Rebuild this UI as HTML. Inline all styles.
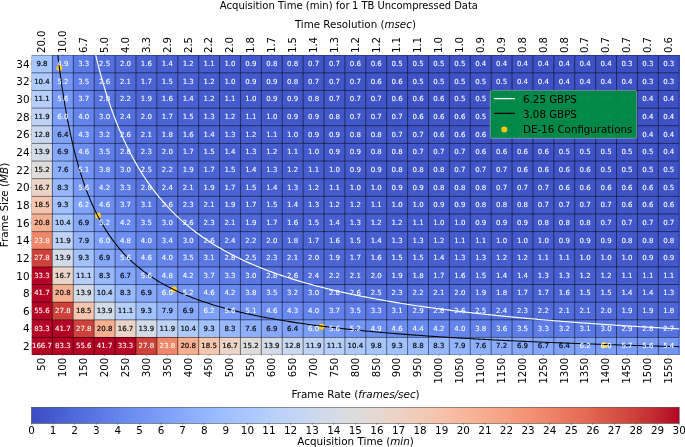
<!DOCTYPE html>
<html><head><meta charset="utf-8"><title>Acquisition Time heatmap</title>
<style>html,body{margin:0;padding:0;background:#fff}body{width:685px;height:447px;overflow:hidden}</style></head>
<body>
<svg width="685" height="447" viewBox="0 0 685 447" style="display:block" font-family="'DejaVu Sans', 'Liberation Sans', sans-serif">
<rect width="685" height="447" fill="#fff"/>
<defs><linearGradient id="cw" x1="0" x2="1" y1="0" y2="0"><stop offset="0.00%" stop-color="#3b4cc0"/><stop offset="2.08%" stop-color="#4055c8"/><stop offset="4.17%" stop-color="#465ecf"/><stop offset="6.25%" stop-color="#4e68d8"/><stop offset="8.33%" stop-color="#5470de"/><stop offset="10.42%" stop-color="#5a78e4"/><stop offset="12.50%" stop-color="#6282ea"/><stop offset="14.58%" stop-color="#688aef"/><stop offset="16.67%" stop-color="#6f92f3"/><stop offset="18.75%" stop-color="#779af7"/><stop offset="20.83%" stop-color="#7ea1fa"/><stop offset="22.92%" stop-color="#85a8fc"/><stop offset="25.00%" stop-color="#8db0fe"/><stop offset="27.08%" stop-color="#94b6ff"/><stop offset="29.17%" stop-color="#9bbcff"/><stop offset="31.25%" stop-color="#a3c2fe"/><stop offset="33.33%" stop-color="#aac7fd"/><stop offset="35.42%" stop-color="#b1cbfc"/><stop offset="37.50%" stop-color="#b9d0f9"/><stop offset="39.58%" stop-color="#bfd3f6"/><stop offset="41.67%" stop-color="#c5d6f2"/><stop offset="43.75%" stop-color="#ccd9ed"/><stop offset="45.83%" stop-color="#d2dbe8"/><stop offset="47.92%" stop-color="#d7dce3"/><stop offset="50.00%" stop-color="#dddcdc"/><stop offset="52.08%" stop-color="#e2dad5"/><stop offset="54.17%" stop-color="#e7d7ce"/><stop offset="56.25%" stop-color="#ecd3c5"/><stop offset="58.33%" stop-color="#efcebd"/><stop offset="60.42%" stop-color="#f2cab5"/><stop offset="62.50%" stop-color="#f5c4ac"/><stop offset="64.58%" stop-color="#f6bea4"/><stop offset="66.67%" stop-color="#f7b89c"/><stop offset="68.75%" stop-color="#f7b093"/><stop offset="70.83%" stop-color="#f7a98b"/><stop offset="72.92%" stop-color="#f6a283"/><stop offset="75.00%" stop-color="#f4987a"/><stop offset="77.08%" stop-color="#f29072"/><stop offset="79.17%" stop-color="#ef886b"/><stop offset="81.25%" stop-color="#eb7d62"/><stop offset="83.33%" stop-color="#e7745b"/><stop offset="85.42%" stop-color="#e36b54"/><stop offset="87.50%" stop-color="#dd5f4b"/><stop offset="89.58%" stop-color="#d75445"/><stop offset="91.67%" stop-color="#d1493f"/><stop offset="93.75%" stop-color="#ca3b37"/><stop offset="95.83%" stop-color="#c32e31"/><stop offset="97.92%" stop-color="#bb1b2c"/><stop offset="100.00%" stop-color="#b40426"/></linearGradient>
<clipPath id="ax"><rect x="31.5" y="55.2" width="647.70" height="299.90"/></clipPath></defs>
<text x="219.8" y="8.7" font-size="10.06" fill="#000">Acquisition Time (min) for</text>
<text x="352.0" y="8.7" font-size="9.91" fill="#000">1 TB Uncompressed Data</text>
<text x="355.4" y="28.1" font-size="10.3" text-anchor="middle" fill="#000">Time Resolution (<tspan font-style="italic">msec</tspan>)</text>
<text x="355.6" y="397.8" font-size="10.4" text-anchor="middle" fill="#000">Frame Rate (<tspan font-style="italic">frames/sec</tspan>)</text>
<text x="355.6" y="444.7" font-size="10.4" text-anchor="middle" fill="#000">Acquisition Time (<tspan font-style="italic">min</tspan>)</text>
<text transform="translate(8.3,205) rotate(-90)" font-size="10.4" text-anchor="middle" fill="#000">Frame Size (<tspan font-style="italic">MB</tspan>)</text>
<g shape-rendering="crispEdges">
<rect x="31.50" y="55.20" width="21.19" height="17.94" fill="#a7c5fe"/>
<rect x="52.39" y="55.20" width="21.19" height="17.94" fill="#6e90f2"/>
<rect x="73.29" y="55.20" width="21.19" height="17.94" fill="#5b7ae5"/>
<rect x="94.18" y="55.20" width="21.19" height="17.94" fill="#536edd"/>
<rect x="115.07" y="55.20" width="21.19" height="17.94" fill="#4e68d8"/>
<rect x="135.97" y="55.20" width="21.19" height="17.94" fill="#4a63d3"/>
<rect x="156.86" y="55.20" width="21.19" height="17.94" fill="#485fd1"/>
<rect x="177.75" y="55.20" width="21.19" height="17.94" fill="#465ecf"/>
<rect x="198.65" y="55.20" width="21.19" height="17.94" fill="#455cce"/>
<rect x="219.54" y="55.20" width="21.19" height="17.94" fill="#445acc"/>
<rect x="240.44" y="55.20" width="21.19" height="17.94" fill="#4358cb"/>
<rect x="261.33" y="55.20" width="21.19" height="17.94" fill="#4257c9"/>
<rect x="282.22" y="55.20" width="21.19" height="17.94" fill="#4257c9"/>
<rect x="303.12" y="55.20" width="21.19" height="17.94" fill="#4055c8"/>
<rect x="324.01" y="55.20" width="21.19" height="17.94" fill="#4055c8"/>
<rect x="344.90" y="55.20" width="21.19" height="17.94" fill="#4055c8"/>
<rect x="365.80" y="55.20" width="21.19" height="17.94" fill="#3f53c6"/>
<rect x="386.69" y="55.20" width="21.19" height="17.94" fill="#3f53c6"/>
<rect x="407.58" y="55.20" width="21.19" height="17.94" fill="#3f53c6"/>
<rect x="428.48" y="55.20" width="21.19" height="17.94" fill="#3f53c6"/>
<rect x="449.37" y="55.20" width="21.19" height="17.94" fill="#3e51c5"/>
<rect x="470.26" y="55.20" width="21.19" height="17.94" fill="#3e51c5"/>
<rect x="491.16" y="55.20" width="21.19" height="17.94" fill="#3e51c5"/>
<rect x="512.05" y="55.20" width="21.19" height="17.94" fill="#3e51c5"/>
<rect x="532.95" y="55.20" width="21.19" height="17.94" fill="#3e51c5"/>
<rect x="553.84" y="55.20" width="21.19" height="17.94" fill="#3e51c5"/>
<rect x="574.73" y="55.20" width="21.19" height="17.94" fill="#3e51c5"/>
<rect x="595.63" y="55.20" width="21.19" height="17.94" fill="#3d50c3"/>
<rect x="616.52" y="55.20" width="21.19" height="17.94" fill="#3d50c3"/>
<rect x="637.41" y="55.20" width="21.19" height="17.94" fill="#3d50c3"/>
<rect x="658.31" y="55.20" width="21.19" height="17.94" fill="#3d50c3"/>
<rect x="31.50" y="72.84" width="21.19" height="17.94" fill="#aec9fc"/>
<rect x="52.39" y="72.84" width="21.19" height="17.94" fill="#7295f4"/>
<rect x="73.29" y="72.84" width="21.19" height="17.94" fill="#5e7de7"/>
<rect x="94.18" y="72.84" width="21.19" height="17.94" fill="#5572df"/>
<rect x="115.07" y="72.84" width="21.19" height="17.94" fill="#4f69d9"/>
<rect x="135.97" y="72.84" width="21.19" height="17.94" fill="#4b64d5"/>
<rect x="156.86" y="72.84" width="21.19" height="17.94" fill="#4961d2"/>
<rect x="177.75" y="72.84" width="21.19" height="17.94" fill="#485fd1"/>
<rect x="198.65" y="72.84" width="21.19" height="17.94" fill="#455cce"/>
<rect x="219.54" y="72.84" width="21.19" height="17.94" fill="#445acc"/>
<rect x="240.44" y="72.84" width="21.19" height="17.94" fill="#445acc"/>
<rect x="261.33" y="72.84" width="21.19" height="17.94" fill="#4358cb"/>
<rect x="282.22" y="72.84" width="21.19" height="17.94" fill="#4257c9"/>
<rect x="303.12" y="72.84" width="21.19" height="17.94" fill="#4257c9"/>
<rect x="324.01" y="72.84" width="21.19" height="17.94" fill="#4055c8"/>
<rect x="344.90" y="72.84" width="21.19" height="17.94" fill="#4055c8"/>
<rect x="365.80" y="72.84" width="21.19" height="17.94" fill="#4055c8"/>
<rect x="386.69" y="72.84" width="21.19" height="17.94" fill="#3f53c6"/>
<rect x="407.58" y="72.84" width="21.19" height="17.94" fill="#3f53c6"/>
<rect x="428.48" y="72.84" width="21.19" height="17.94" fill="#3f53c6"/>
<rect x="449.37" y="72.84" width="21.19" height="17.94" fill="#3f53c6"/>
<rect x="470.26" y="72.84" width="21.19" height="17.94" fill="#3f53c6"/>
<rect x="491.16" y="72.84" width="21.19" height="17.94" fill="#3e51c5"/>
<rect x="512.05" y="72.84" width="21.19" height="17.94" fill="#3e51c5"/>
<rect x="532.95" y="72.84" width="21.19" height="17.94" fill="#3e51c5"/>
<rect x="553.84" y="72.84" width="21.19" height="17.94" fill="#3e51c5"/>
<rect x="574.73" y="72.84" width="21.19" height="17.94" fill="#3e51c5"/>
<rect x="595.63" y="72.84" width="21.19" height="17.94" fill="#3e51c5"/>
<rect x="616.52" y="72.84" width="21.19" height="17.94" fill="#3e51c5"/>
<rect x="637.41" y="72.84" width="21.19" height="17.94" fill="#3d50c3"/>
<rect x="658.31" y="72.84" width="21.19" height="17.94" fill="#3d50c3"/>
<rect x="31.50" y="90.48" width="21.19" height="17.94" fill="#b6cefa"/>
<rect x="52.39" y="90.48" width="21.19" height="17.94" fill="#7699f6"/>
<rect x="73.29" y="90.48" width="21.19" height="17.94" fill="#6180e9"/>
<rect x="94.18" y="90.48" width="21.19" height="17.94" fill="#5673e0"/>
<rect x="115.07" y="90.48" width="21.19" height="17.94" fill="#506bda"/>
<rect x="135.97" y="90.48" width="21.19" height="17.94" fill="#4c66d6"/>
<rect x="156.86" y="90.48" width="21.19" height="17.94" fill="#4a63d3"/>
<rect x="177.75" y="90.48" width="21.19" height="17.94" fill="#485fd1"/>
<rect x="198.65" y="90.48" width="21.19" height="17.94" fill="#465ecf"/>
<rect x="219.54" y="90.48" width="21.19" height="17.94" fill="#455cce"/>
<rect x="240.44" y="90.48" width="21.19" height="17.94" fill="#445acc"/>
<rect x="261.33" y="90.48" width="21.19" height="17.94" fill="#4358cb"/>
<rect x="282.22" y="90.48" width="21.19" height="17.94" fill="#4358cb"/>
<rect x="303.12" y="90.48" width="21.19" height="17.94" fill="#4257c9"/>
<rect x="324.01" y="90.48" width="21.19" height="17.94" fill="#4257c9"/>
<rect x="344.90" y="90.48" width="21.19" height="17.94" fill="#4055c8"/>
<rect x="365.80" y="90.48" width="21.19" height="17.94" fill="#4055c8"/>
<rect x="386.69" y="90.48" width="21.19" height="17.94" fill="#4055c8"/>
<rect x="407.58" y="90.48" width="21.19" height="17.94" fill="#3f53c6"/>
<rect x="428.48" y="90.48" width="21.19" height="17.94" fill="#3f53c6"/>
<rect x="449.37" y="90.48" width="21.19" height="17.94" fill="#3f53c6"/>
<rect x="470.26" y="90.48" width="21.19" height="17.94" fill="#3f53c6"/>
<rect x="491.16" y="90.48" width="21.19" height="17.94" fill="#3f53c6"/>
<rect x="512.05" y="90.48" width="21.19" height="17.94" fill="#3e51c5"/>
<rect x="532.95" y="90.48" width="21.19" height="17.94" fill="#3e51c5"/>
<rect x="553.84" y="90.48" width="21.19" height="17.94" fill="#3e51c5"/>
<rect x="574.73" y="90.48" width="21.19" height="17.94" fill="#3e51c5"/>
<rect x="595.63" y="90.48" width="21.19" height="17.94" fill="#3e51c5"/>
<rect x="616.52" y="90.48" width="21.19" height="17.94" fill="#3e51c5"/>
<rect x="637.41" y="90.48" width="21.19" height="17.94" fill="#3e51c5"/>
<rect x="658.31" y="90.48" width="21.19" height="17.94" fill="#3e51c5"/>
<rect x="31.50" y="108.12" width="21.19" height="17.94" fill="#bfd3f6"/>
<rect x="52.39" y="108.12" width="21.19" height="17.94" fill="#7a9df8"/>
<rect x="73.29" y="108.12" width="21.19" height="17.94" fill="#6384eb"/>
<rect x="94.18" y="108.12" width="21.19" height="17.94" fill="#5977e3"/>
<rect x="115.07" y="108.12" width="21.19" height="17.94" fill="#536edd"/>
<rect x="135.97" y="108.12" width="21.19" height="17.94" fill="#4e68d8"/>
<rect x="156.86" y="108.12" width="21.19" height="17.94" fill="#4b64d5"/>
<rect x="177.75" y="108.12" width="21.19" height="17.94" fill="#4961d2"/>
<rect x="198.65" y="108.12" width="21.19" height="17.94" fill="#485fd1"/>
<rect x="219.54" y="108.12" width="21.19" height="17.94" fill="#465ecf"/>
<rect x="240.44" y="108.12" width="21.19" height="17.94" fill="#455cce"/>
<rect x="261.33" y="108.12" width="21.19" height="17.94" fill="#445acc"/>
<rect x="282.22" y="108.12" width="21.19" height="17.94" fill="#4358cb"/>
<rect x="303.12" y="108.12" width="21.19" height="17.94" fill="#4358cb"/>
<rect x="324.01" y="108.12" width="21.19" height="17.94" fill="#4257c9"/>
<rect x="344.90" y="108.12" width="21.19" height="17.94" fill="#4257c9"/>
<rect x="365.80" y="108.12" width="21.19" height="17.94" fill="#4055c8"/>
<rect x="386.69" y="108.12" width="21.19" height="17.94" fill="#4055c8"/>
<rect x="407.58" y="108.12" width="21.19" height="17.94" fill="#4055c8"/>
<rect x="428.48" y="108.12" width="21.19" height="17.94" fill="#4055c8"/>
<rect x="449.37" y="108.12" width="21.19" height="17.94" fill="#3f53c6"/>
<rect x="470.26" y="108.12" width="21.19" height="17.94" fill="#3f53c6"/>
<rect x="491.16" y="108.12" width="21.19" height="17.94" fill="#3f53c6"/>
<rect x="512.05" y="108.12" width="21.19" height="17.94" fill="#3f53c6"/>
<rect x="532.95" y="108.12" width="21.19" height="17.94" fill="#3f53c6"/>
<rect x="553.84" y="108.12" width="21.19" height="17.94" fill="#3e51c5"/>
<rect x="574.73" y="108.12" width="21.19" height="17.94" fill="#3e51c5"/>
<rect x="595.63" y="108.12" width="21.19" height="17.94" fill="#3e51c5"/>
<rect x="616.52" y="108.12" width="21.19" height="17.94" fill="#3e51c5"/>
<rect x="637.41" y="108.12" width="21.19" height="17.94" fill="#3e51c5"/>
<rect x="658.31" y="108.12" width="21.19" height="17.94" fill="#3e51c5"/>
<rect x="31.50" y="125.76" width="21.19" height="17.94" fill="#c9d7f0"/>
<rect x="52.39" y="125.76" width="21.19" height="17.94" fill="#80a3fa"/>
<rect x="73.29" y="125.76" width="21.19" height="17.94" fill="#6788ee"/>
<rect x="94.18" y="125.76" width="21.19" height="17.94" fill="#5b7ae5"/>
<rect x="115.07" y="125.76" width="21.19" height="17.94" fill="#5470de"/>
<rect x="135.97" y="125.76" width="21.19" height="17.94" fill="#506bda"/>
<rect x="156.86" y="125.76" width="21.19" height="17.94" fill="#4c66d6"/>
<rect x="177.75" y="125.76" width="21.19" height="17.94" fill="#4a63d3"/>
<rect x="198.65" y="125.76" width="21.19" height="17.94" fill="#4961d2"/>
<rect x="219.54" y="125.76" width="21.19" height="17.94" fill="#465ecf"/>
<rect x="240.44" y="125.76" width="21.19" height="17.94" fill="#455cce"/>
<rect x="261.33" y="125.76" width="21.19" height="17.94" fill="#455cce"/>
<rect x="282.22" y="125.76" width="21.19" height="17.94" fill="#445acc"/>
<rect x="303.12" y="125.76" width="21.19" height="17.94" fill="#4358cb"/>
<rect x="324.01" y="125.76" width="21.19" height="17.94" fill="#4358cb"/>
<rect x="344.90" y="125.76" width="21.19" height="17.94" fill="#4257c9"/>
<rect x="365.80" y="125.76" width="21.19" height="17.94" fill="#4257c9"/>
<rect x="386.69" y="125.76" width="21.19" height="17.94" fill="#4257c9"/>
<rect x="407.58" y="125.76" width="21.19" height="17.94" fill="#4055c8"/>
<rect x="428.48" y="125.76" width="21.19" height="17.94" fill="#4055c8"/>
<rect x="449.37" y="125.76" width="21.19" height="17.94" fill="#4055c8"/>
<rect x="470.26" y="125.76" width="21.19" height="17.94" fill="#3f53c6"/>
<rect x="491.16" y="125.76" width="21.19" height="17.94" fill="#3f53c6"/>
<rect x="512.05" y="125.76" width="21.19" height="17.94" fill="#3f53c6"/>
<rect x="532.95" y="125.76" width="21.19" height="17.94" fill="#3f53c6"/>
<rect x="553.84" y="125.76" width="21.19" height="17.94" fill="#3f53c6"/>
<rect x="574.73" y="125.76" width="21.19" height="17.94" fill="#3f53c6"/>
<rect x="595.63" y="125.76" width="21.19" height="17.94" fill="#3e51c5"/>
<rect x="616.52" y="125.76" width="21.19" height="17.94" fill="#3e51c5"/>
<rect x="637.41" y="125.76" width="21.19" height="17.94" fill="#3e51c5"/>
<rect x="658.31" y="125.76" width="21.19" height="17.94" fill="#3e51c5"/>
<rect x="31.50" y="143.41" width="21.19" height="17.94" fill="#d3dbe7"/>
<rect x="52.39" y="143.41" width="21.19" height="17.94" fill="#86a9fc"/>
<rect x="73.29" y="143.41" width="21.19" height="17.94" fill="#6b8df0"/>
<rect x="94.18" y="143.41" width="21.19" height="17.94" fill="#5e7de7"/>
<rect x="115.07" y="143.41" width="21.19" height="17.94" fill="#5673e0"/>
<rect x="135.97" y="143.41" width="21.19" height="17.94" fill="#516ddb"/>
<rect x="156.86" y="143.41" width="21.19" height="17.94" fill="#4e68d8"/>
<rect x="177.75" y="143.41" width="21.19" height="17.94" fill="#4b64d5"/>
<rect x="198.65" y="143.41" width="21.19" height="17.94" fill="#4a63d3"/>
<rect x="219.54" y="143.41" width="21.19" height="17.94" fill="#485fd1"/>
<rect x="240.44" y="143.41" width="21.19" height="17.94" fill="#465ecf"/>
<rect x="261.33" y="143.41" width="21.19" height="17.94" fill="#455cce"/>
<rect x="282.22" y="143.41" width="21.19" height="17.94" fill="#455cce"/>
<rect x="303.12" y="143.41" width="21.19" height="17.94" fill="#445acc"/>
<rect x="324.01" y="143.41" width="21.19" height="17.94" fill="#4358cb"/>
<rect x="344.90" y="143.41" width="21.19" height="17.94" fill="#4358cb"/>
<rect x="365.80" y="143.41" width="21.19" height="17.94" fill="#4257c9"/>
<rect x="386.69" y="143.41" width="21.19" height="17.94" fill="#4257c9"/>
<rect x="407.58" y="143.41" width="21.19" height="17.94" fill="#4257c9"/>
<rect x="428.48" y="143.41" width="21.19" height="17.94" fill="#4055c8"/>
<rect x="449.37" y="143.41" width="21.19" height="17.94" fill="#4055c8"/>
<rect x="470.26" y="143.41" width="21.19" height="17.94" fill="#4055c8"/>
<rect x="491.16" y="143.41" width="21.19" height="17.94" fill="#4055c8"/>
<rect x="512.05" y="143.41" width="21.19" height="17.94" fill="#3f53c6"/>
<rect x="532.95" y="143.41" width="21.19" height="17.94" fill="#3f53c6"/>
<rect x="553.84" y="143.41" width="21.19" height="17.94" fill="#3f53c6"/>
<rect x="574.73" y="143.41" width="21.19" height="17.94" fill="#3f53c6"/>
<rect x="595.63" y="143.41" width="21.19" height="17.94" fill="#3f53c6"/>
<rect x="616.52" y="143.41" width="21.19" height="17.94" fill="#3f53c6"/>
<rect x="637.41" y="143.41" width="21.19" height="17.94" fill="#3e51c5"/>
<rect x="658.31" y="143.41" width="21.19" height="17.94" fill="#3e51c5"/>
<rect x="31.50" y="161.05" width="21.19" height="17.94" fill="#dedcdb"/>
<rect x="52.39" y="161.05" width="21.19" height="17.94" fill="#8db0fe"/>
<rect x="73.29" y="161.05" width="21.19" height="17.94" fill="#7093f3"/>
<rect x="94.18" y="161.05" width="21.19" height="17.94" fill="#6282ea"/>
<rect x="115.07" y="161.05" width="21.19" height="17.94" fill="#5977e3"/>
<rect x="135.97" y="161.05" width="21.19" height="17.94" fill="#5470de"/>
<rect x="156.86" y="161.05" width="21.19" height="17.94" fill="#506bda"/>
<rect x="177.75" y="161.05" width="21.19" height="17.94" fill="#4e68d8"/>
<rect x="198.65" y="161.05" width="21.19" height="17.94" fill="#4b64d5"/>
<rect x="219.54" y="161.05" width="21.19" height="17.94" fill="#4961d2"/>
<rect x="240.44" y="161.05" width="21.19" height="17.94" fill="#485fd1"/>
<rect x="261.33" y="161.05" width="21.19" height="17.94" fill="#465ecf"/>
<rect x="282.22" y="161.05" width="21.19" height="17.94" fill="#455cce"/>
<rect x="303.12" y="161.05" width="21.19" height="17.94" fill="#455cce"/>
<rect x="324.01" y="161.05" width="21.19" height="17.94" fill="#445acc"/>
<rect x="344.90" y="161.05" width="21.19" height="17.94" fill="#445acc"/>
<rect x="365.80" y="161.05" width="21.19" height="17.94" fill="#4358cb"/>
<rect x="386.69" y="161.05" width="21.19" height="17.94" fill="#4358cb"/>
<rect x="407.58" y="161.05" width="21.19" height="17.94" fill="#4257c9"/>
<rect x="428.48" y="161.05" width="21.19" height="17.94" fill="#4257c9"/>
<rect x="449.37" y="161.05" width="21.19" height="17.94" fill="#4257c9"/>
<rect x="470.26" y="161.05" width="21.19" height="17.94" fill="#4055c8"/>
<rect x="491.16" y="161.05" width="21.19" height="17.94" fill="#4055c8"/>
<rect x="512.05" y="161.05" width="21.19" height="17.94" fill="#4055c8"/>
<rect x="532.95" y="161.05" width="21.19" height="17.94" fill="#4055c8"/>
<rect x="553.84" y="161.05" width="21.19" height="17.94" fill="#3f53c6"/>
<rect x="574.73" y="161.05" width="21.19" height="17.94" fill="#3f53c6"/>
<rect x="595.63" y="161.05" width="21.19" height="17.94" fill="#3f53c6"/>
<rect x="616.52" y="161.05" width="21.19" height="17.94" fill="#3f53c6"/>
<rect x="637.41" y="161.05" width="21.19" height="17.94" fill="#3f53c6"/>
<rect x="658.31" y="161.05" width="21.19" height="17.94" fill="#3f53c6"/>
<rect x="31.50" y="178.69" width="21.19" height="17.94" fill="#ead4c8"/>
<rect x="52.39" y="178.69" width="21.19" height="17.94" fill="#97b8ff"/>
<rect x="73.29" y="178.69" width="21.19" height="17.94" fill="#7699f6"/>
<rect x="94.18" y="178.69" width="21.19" height="17.94" fill="#6687ed"/>
<rect x="115.07" y="178.69" width="21.19" height="17.94" fill="#5d7ce6"/>
<rect x="135.97" y="178.69" width="21.19" height="17.94" fill="#5673e0"/>
<rect x="156.86" y="178.69" width="21.19" height="17.94" fill="#536edd"/>
<rect x="177.75" y="178.69" width="21.19" height="17.94" fill="#4f69d9"/>
<rect x="198.65" y="178.69" width="21.19" height="17.94" fill="#4c66d6"/>
<rect x="219.54" y="178.69" width="21.19" height="17.94" fill="#4b64d5"/>
<rect x="240.44" y="178.69" width="21.19" height="17.94" fill="#4961d2"/>
<rect x="261.33" y="178.69" width="21.19" height="17.94" fill="#485fd1"/>
<rect x="282.22" y="178.69" width="21.19" height="17.94" fill="#465ecf"/>
<rect x="303.12" y="178.69" width="21.19" height="17.94" fill="#465ecf"/>
<rect x="324.01" y="178.69" width="21.19" height="17.94" fill="#455cce"/>
<rect x="344.90" y="178.69" width="21.19" height="17.94" fill="#445acc"/>
<rect x="365.80" y="178.69" width="21.19" height="17.94" fill="#445acc"/>
<rect x="386.69" y="178.69" width="21.19" height="17.94" fill="#4358cb"/>
<rect x="407.58" y="178.69" width="21.19" height="17.94" fill="#4358cb"/>
<rect x="428.48" y="178.69" width="21.19" height="17.94" fill="#4358cb"/>
<rect x="449.37" y="178.69" width="21.19" height="17.94" fill="#4257c9"/>
<rect x="470.26" y="178.69" width="21.19" height="17.94" fill="#4257c9"/>
<rect x="491.16" y="178.69" width="21.19" height="17.94" fill="#4257c9"/>
<rect x="512.05" y="178.69" width="21.19" height="17.94" fill="#4055c8"/>
<rect x="532.95" y="178.69" width="21.19" height="17.94" fill="#4055c8"/>
<rect x="553.84" y="178.69" width="21.19" height="17.94" fill="#4055c8"/>
<rect x="574.73" y="178.69" width="21.19" height="17.94" fill="#4055c8"/>
<rect x="595.63" y="178.69" width="21.19" height="17.94" fill="#4055c8"/>
<rect x="616.52" y="178.69" width="21.19" height="17.94" fill="#3f53c6"/>
<rect x="637.41" y="178.69" width="21.19" height="17.94" fill="#3f53c6"/>
<rect x="658.31" y="178.69" width="21.19" height="17.94" fill="#3f53c6"/>
<rect x="31.50" y="196.33" width="21.19" height="17.94" fill="#f4c6af"/>
<rect x="52.39" y="196.33" width="21.19" height="17.94" fill="#a2c1ff"/>
<rect x="73.29" y="196.33" width="21.19" height="17.94" fill="#7da0f9"/>
<rect x="94.18" y="196.33" width="21.19" height="17.94" fill="#6b8df0"/>
<rect x="115.07" y="196.33" width="21.19" height="17.94" fill="#6180e9"/>
<rect x="135.97" y="196.33" width="21.19" height="17.94" fill="#5a78e4"/>
<rect x="156.86" y="196.33" width="21.19" height="17.94" fill="#5572df"/>
<rect x="177.75" y="196.33" width="21.19" height="17.94" fill="#516ddb"/>
<rect x="198.65" y="196.33" width="21.19" height="17.94" fill="#4f69d9"/>
<rect x="219.54" y="196.33" width="21.19" height="17.94" fill="#4c66d6"/>
<rect x="240.44" y="196.33" width="21.19" height="17.94" fill="#4b64d5"/>
<rect x="261.33" y="196.33" width="21.19" height="17.94" fill="#4a63d3"/>
<rect x="282.22" y="196.33" width="21.19" height="17.94" fill="#4961d2"/>
<rect x="303.12" y="196.33" width="21.19" height="17.94" fill="#485fd1"/>
<rect x="324.01" y="196.33" width="21.19" height="17.94" fill="#465ecf"/>
<rect x="344.90" y="196.33" width="21.19" height="17.94" fill="#455cce"/>
<rect x="365.80" y="196.33" width="21.19" height="17.94" fill="#455cce"/>
<rect x="386.69" y="196.33" width="21.19" height="17.94" fill="#445acc"/>
<rect x="407.58" y="196.33" width="21.19" height="17.94" fill="#445acc"/>
<rect x="428.48" y="196.33" width="21.19" height="17.94" fill="#4358cb"/>
<rect x="449.37" y="196.33" width="21.19" height="17.94" fill="#4358cb"/>
<rect x="470.26" y="196.33" width="21.19" height="17.94" fill="#4358cb"/>
<rect x="491.16" y="196.33" width="21.19" height="17.94" fill="#4257c9"/>
<rect x="512.05" y="196.33" width="21.19" height="17.94" fill="#4257c9"/>
<rect x="532.95" y="196.33" width="21.19" height="17.94" fill="#4257c9"/>
<rect x="553.84" y="196.33" width="21.19" height="17.94" fill="#4257c9"/>
<rect x="574.73" y="196.33" width="21.19" height="17.94" fill="#4055c8"/>
<rect x="595.63" y="196.33" width="21.19" height="17.94" fill="#4055c8"/>
<rect x="616.52" y="196.33" width="21.19" height="17.94" fill="#4055c8"/>
<rect x="637.41" y="196.33" width="21.19" height="17.94" fill="#4055c8"/>
<rect x="658.31" y="196.33" width="21.19" height="17.94" fill="#4055c8"/>
<rect x="31.50" y="213.97" width="21.19" height="17.94" fill="#f7af91"/>
<rect x="52.39" y="213.97" width="21.19" height="17.94" fill="#aec9fc"/>
<rect x="73.29" y="213.97" width="21.19" height="17.94" fill="#86a9fc"/>
<rect x="94.18" y="213.97" width="21.19" height="17.94" fill="#7295f4"/>
<rect x="115.07" y="213.97" width="21.19" height="17.94" fill="#6687ed"/>
<rect x="135.97" y="213.97" width="21.19" height="17.94" fill="#5e7de7"/>
<rect x="156.86" y="213.97" width="21.19" height="17.94" fill="#5977e3"/>
<rect x="177.75" y="213.97" width="21.19" height="17.94" fill="#5572df"/>
<rect x="198.65" y="213.97" width="21.19" height="17.94" fill="#516ddb"/>
<rect x="219.54" y="213.97" width="21.19" height="17.94" fill="#4f69d9"/>
<rect x="240.44" y="213.97" width="21.19" height="17.94" fill="#4e68d8"/>
<rect x="261.33" y="213.97" width="21.19" height="17.94" fill="#4b64d5"/>
<rect x="282.22" y="213.97" width="21.19" height="17.94" fill="#4a63d3"/>
<rect x="303.12" y="213.97" width="21.19" height="17.94" fill="#4961d2"/>
<rect x="324.01" y="213.97" width="21.19" height="17.94" fill="#485fd1"/>
<rect x="344.90" y="213.97" width="21.19" height="17.94" fill="#485fd1"/>
<rect x="365.80" y="213.97" width="21.19" height="17.94" fill="#465ecf"/>
<rect x="386.69" y="213.97" width="21.19" height="17.94" fill="#455cce"/>
<rect x="407.58" y="213.97" width="21.19" height="17.94" fill="#455cce"/>
<rect x="428.48" y="213.97" width="21.19" height="17.94" fill="#445acc"/>
<rect x="449.37" y="213.97" width="21.19" height="17.94" fill="#445acc"/>
<rect x="470.26" y="213.97" width="21.19" height="17.94" fill="#445acc"/>
<rect x="491.16" y="213.97" width="21.19" height="17.94" fill="#4358cb"/>
<rect x="512.05" y="213.97" width="21.19" height="17.94" fill="#4358cb"/>
<rect x="532.95" y="213.97" width="21.19" height="17.94" fill="#4358cb"/>
<rect x="553.84" y="213.97" width="21.19" height="17.94" fill="#4257c9"/>
<rect x="574.73" y="213.97" width="21.19" height="17.94" fill="#4257c9"/>
<rect x="595.63" y="213.97" width="21.19" height="17.94" fill="#4257c9"/>
<rect x="616.52" y="213.97" width="21.19" height="17.94" fill="#4257c9"/>
<rect x="637.41" y="213.97" width="21.19" height="17.94" fill="#4055c8"/>
<rect x="658.31" y="213.97" width="21.19" height="17.94" fill="#4055c8"/>
<rect x="31.50" y="231.61" width="21.19" height="17.94" fill="#ee8669"/>
<rect x="52.39" y="231.61" width="21.19" height="17.94" fill="#bfd3f6"/>
<rect x="73.29" y="231.61" width="21.19" height="17.94" fill="#92b4fe"/>
<rect x="94.18" y="231.61" width="21.19" height="17.94" fill="#7a9df8"/>
<rect x="115.07" y="231.61" width="21.19" height="17.94" fill="#6c8ff1"/>
<rect x="135.97" y="231.61" width="21.19" height="17.94" fill="#6384eb"/>
<rect x="156.86" y="231.61" width="21.19" height="17.94" fill="#5e7de7"/>
<rect x="177.75" y="231.61" width="21.19" height="17.94" fill="#5977e3"/>
<rect x="198.65" y="231.61" width="21.19" height="17.94" fill="#5572df"/>
<rect x="219.54" y="231.61" width="21.19" height="17.94" fill="#536edd"/>
<rect x="240.44" y="231.61" width="21.19" height="17.94" fill="#506bda"/>
<rect x="261.33" y="231.61" width="21.19" height="17.94" fill="#4e68d8"/>
<rect x="282.22" y="231.61" width="21.19" height="17.94" fill="#4c66d6"/>
<rect x="303.12" y="231.61" width="21.19" height="17.94" fill="#4b64d5"/>
<rect x="324.01" y="231.61" width="21.19" height="17.94" fill="#4a63d3"/>
<rect x="344.90" y="231.61" width="21.19" height="17.94" fill="#4961d2"/>
<rect x="365.80" y="231.61" width="21.19" height="17.94" fill="#485fd1"/>
<rect x="386.69" y="231.61" width="21.19" height="17.94" fill="#485fd1"/>
<rect x="407.58" y="231.61" width="21.19" height="17.94" fill="#465ecf"/>
<rect x="428.48" y="231.61" width="21.19" height="17.94" fill="#465ecf"/>
<rect x="449.37" y="231.61" width="21.19" height="17.94" fill="#455cce"/>
<rect x="470.26" y="231.61" width="21.19" height="17.94" fill="#455cce"/>
<rect x="491.16" y="231.61" width="21.19" height="17.94" fill="#445acc"/>
<rect x="512.05" y="231.61" width="21.19" height="17.94" fill="#445acc"/>
<rect x="532.95" y="231.61" width="21.19" height="17.94" fill="#445acc"/>
<rect x="553.84" y="231.61" width="21.19" height="17.94" fill="#4358cb"/>
<rect x="574.73" y="231.61" width="21.19" height="17.94" fill="#4358cb"/>
<rect x="595.63" y="231.61" width="21.19" height="17.94" fill="#4358cb"/>
<rect x="616.52" y="231.61" width="21.19" height="17.94" fill="#4358cb"/>
<rect x="637.41" y="231.61" width="21.19" height="17.94" fill="#4257c9"/>
<rect x="658.31" y="231.61" width="21.19" height="17.94" fill="#4257c9"/>
<rect x="31.50" y="249.25" width="21.19" height="17.94" fill="#cd423b"/>
<rect x="52.39" y="249.25" width="21.19" height="17.94" fill="#d3dbe7"/>
<rect x="73.29" y="249.25" width="21.19" height="17.94" fill="#a2c1ff"/>
<rect x="94.18" y="249.25" width="21.19" height="17.94" fill="#86a9fc"/>
<rect x="115.07" y="249.25" width="21.19" height="17.94" fill="#7699f6"/>
<rect x="135.97" y="249.25" width="21.19" height="17.94" fill="#6b8df0"/>
<rect x="156.86" y="249.25" width="21.19" height="17.94" fill="#6384eb"/>
<rect x="177.75" y="249.25" width="21.19" height="17.94" fill="#5e7de7"/>
<rect x="198.65" y="249.25" width="21.19" height="17.94" fill="#5a78e4"/>
<rect x="219.54" y="249.25" width="21.19" height="17.94" fill="#5673e0"/>
<rect x="240.44" y="249.25" width="21.19" height="17.94" fill="#5470de"/>
<rect x="261.33" y="249.25" width="21.19" height="17.94" fill="#516ddb"/>
<rect x="282.22" y="249.25" width="21.19" height="17.94" fill="#506bda"/>
<rect x="303.12" y="249.25" width="21.19" height="17.94" fill="#4e68d8"/>
<rect x="324.01" y="249.25" width="21.19" height="17.94" fill="#4c66d6"/>
<rect x="344.90" y="249.25" width="21.19" height="17.94" fill="#4b64d5"/>
<rect x="365.80" y="249.25" width="21.19" height="17.94" fill="#4a63d3"/>
<rect x="386.69" y="249.25" width="21.19" height="17.94" fill="#4a63d3"/>
<rect x="407.58" y="249.25" width="21.19" height="17.94" fill="#4961d2"/>
<rect x="428.48" y="249.25" width="21.19" height="17.94" fill="#485fd1"/>
<rect x="449.37" y="249.25" width="21.19" height="17.94" fill="#485fd1"/>
<rect x="470.26" y="249.25" width="21.19" height="17.94" fill="#465ecf"/>
<rect x="491.16" y="249.25" width="21.19" height="17.94" fill="#465ecf"/>
<rect x="512.05" y="249.25" width="21.19" height="17.94" fill="#455cce"/>
<rect x="532.95" y="249.25" width="21.19" height="17.94" fill="#455cce"/>
<rect x="553.84" y="249.25" width="21.19" height="17.94" fill="#455cce"/>
<rect x="574.73" y="249.25" width="21.19" height="17.94" fill="#445acc"/>
<rect x="595.63" y="249.25" width="21.19" height="17.94" fill="#445acc"/>
<rect x="616.52" y="249.25" width="21.19" height="17.94" fill="#445acc"/>
<rect x="637.41" y="249.25" width="21.19" height="17.94" fill="#4358cb"/>
<rect x="658.31" y="249.25" width="21.19" height="17.94" fill="#4358cb"/>
<rect x="31.50" y="266.89" width="21.19" height="17.94" fill="#b40426"/>
<rect x="52.39" y="266.89" width="21.19" height="17.94" fill="#ead4c8"/>
<rect x="73.29" y="266.89" width="21.19" height="17.94" fill="#b6cefa"/>
<rect x="94.18" y="266.89" width="21.19" height="17.94" fill="#97b8ff"/>
<rect x="115.07" y="266.89" width="21.19" height="17.94" fill="#82a6fb"/>
<rect x="135.97" y="266.89" width="21.19" height="17.94" fill="#7699f6"/>
<rect x="156.86" y="266.89" width="21.19" height="17.94" fill="#6c8ff1"/>
<rect x="177.75" y="266.89" width="21.19" height="17.94" fill="#6687ed"/>
<rect x="198.65" y="266.89" width="21.19" height="17.94" fill="#6180e9"/>
<rect x="219.54" y="266.89" width="21.19" height="17.94" fill="#5d7ce6"/>
<rect x="240.44" y="266.89" width="21.19" height="17.94" fill="#5977e3"/>
<rect x="261.33" y="266.89" width="21.19" height="17.94" fill="#5673e0"/>
<rect x="282.22" y="266.89" width="21.19" height="17.94" fill="#5470de"/>
<rect x="303.12" y="266.89" width="21.19" height="17.94" fill="#536edd"/>
<rect x="324.01" y="266.89" width="21.19" height="17.94" fill="#506bda"/>
<rect x="344.90" y="266.89" width="21.19" height="17.94" fill="#4f69d9"/>
<rect x="365.80" y="266.89" width="21.19" height="17.94" fill="#4e68d8"/>
<rect x="386.69" y="266.89" width="21.19" height="17.94" fill="#4c66d6"/>
<rect x="407.58" y="266.89" width="21.19" height="17.94" fill="#4b64d5"/>
<rect x="428.48" y="266.89" width="21.19" height="17.94" fill="#4b64d5"/>
<rect x="449.37" y="266.89" width="21.19" height="17.94" fill="#4a63d3"/>
<rect x="470.26" y="266.89" width="21.19" height="17.94" fill="#4961d2"/>
<rect x="491.16" y="266.89" width="21.19" height="17.94" fill="#4961d2"/>
<rect x="512.05" y="266.89" width="21.19" height="17.94" fill="#485fd1"/>
<rect x="532.95" y="266.89" width="21.19" height="17.94" fill="#485fd1"/>
<rect x="553.84" y="266.89" width="21.19" height="17.94" fill="#465ecf"/>
<rect x="574.73" y="266.89" width="21.19" height="17.94" fill="#465ecf"/>
<rect x="595.63" y="266.89" width="21.19" height="17.94" fill="#465ecf"/>
<rect x="616.52" y="266.89" width="21.19" height="17.94" fill="#455cce"/>
<rect x="637.41" y="266.89" width="21.19" height="17.94" fill="#455cce"/>
<rect x="658.31" y="266.89" width="21.19" height="17.94" fill="#455cce"/>
<rect x="31.50" y="284.54" width="21.19" height="17.94" fill="#b40426"/>
<rect x="52.39" y="284.54" width="21.19" height="17.94" fill="#f7af91"/>
<rect x="73.29" y="284.54" width="21.19" height="17.94" fill="#d3dbe7"/>
<rect x="94.18" y="284.54" width="21.19" height="17.94" fill="#aec9fc"/>
<rect x="115.07" y="284.54" width="21.19" height="17.94" fill="#97b8ff"/>
<rect x="135.97" y="284.54" width="21.19" height="17.94" fill="#86a9fc"/>
<rect x="156.86" y="284.54" width="21.19" height="17.94" fill="#7a9df8"/>
<rect x="177.75" y="284.54" width="21.19" height="17.94" fill="#7295f4"/>
<rect x="198.65" y="284.54" width="21.19" height="17.94" fill="#6b8df0"/>
<rect x="219.54" y="284.54" width="21.19" height="17.94" fill="#6687ed"/>
<rect x="240.44" y="284.54" width="21.19" height="17.94" fill="#6282ea"/>
<rect x="261.33" y="284.54" width="21.19" height="17.94" fill="#5e7de7"/>
<rect x="282.22" y="284.54" width="21.19" height="17.94" fill="#5b7ae5"/>
<rect x="303.12" y="284.54" width="21.19" height="17.94" fill="#5977e3"/>
<rect x="324.01" y="284.54" width="21.19" height="17.94" fill="#5673e0"/>
<rect x="344.90" y="284.54" width="21.19" height="17.94" fill="#5572df"/>
<rect x="365.80" y="284.54" width="21.19" height="17.94" fill="#536edd"/>
<rect x="386.69" y="284.54" width="21.19" height="17.94" fill="#516ddb"/>
<rect x="407.58" y="284.54" width="21.19" height="17.94" fill="#506bda"/>
<rect x="428.48" y="284.54" width="21.19" height="17.94" fill="#4f69d9"/>
<rect x="449.37" y="284.54" width="21.19" height="17.94" fill="#4e68d8"/>
<rect x="470.26" y="284.54" width="21.19" height="17.94" fill="#4e68d8"/>
<rect x="491.16" y="284.54" width="21.19" height="17.94" fill="#4c66d6"/>
<rect x="512.05" y="284.54" width="21.19" height="17.94" fill="#4b64d5"/>
<rect x="532.95" y="284.54" width="21.19" height="17.94" fill="#4b64d5"/>
<rect x="553.84" y="284.54" width="21.19" height="17.94" fill="#4a63d3"/>
<rect x="574.73" y="284.54" width="21.19" height="17.94" fill="#4a63d3"/>
<rect x="595.63" y="284.54" width="21.19" height="17.94" fill="#4961d2"/>
<rect x="616.52" y="284.54" width="21.19" height="17.94" fill="#4961d2"/>
<rect x="637.41" y="284.54" width="21.19" height="17.94" fill="#485fd1"/>
<rect x="658.31" y="284.54" width="21.19" height="17.94" fill="#485fd1"/>
<rect x="31.50" y="302.18" width="21.19" height="17.94" fill="#b40426"/>
<rect x="52.39" y="302.18" width="21.19" height="17.94" fill="#cd423b"/>
<rect x="73.29" y="302.18" width="21.19" height="17.94" fill="#f4c6af"/>
<rect x="94.18" y="302.18" width="21.19" height="17.94" fill="#d3dbe7"/>
<rect x="115.07" y="302.18" width="21.19" height="17.94" fill="#b6cefa"/>
<rect x="135.97" y="302.18" width="21.19" height="17.94" fill="#a2c1ff"/>
<rect x="156.86" y="302.18" width="21.19" height="17.94" fill="#92b4fe"/>
<rect x="177.75" y="302.18" width="21.19" height="17.94" fill="#86a9fc"/>
<rect x="198.65" y="302.18" width="21.19" height="17.94" fill="#7da0f9"/>
<rect x="219.54" y="302.18" width="21.19" height="17.94" fill="#7699f6"/>
<rect x="240.44" y="302.18" width="21.19" height="17.94" fill="#7093f3"/>
<rect x="261.33" y="302.18" width="21.19" height="17.94" fill="#6b8df0"/>
<rect x="282.22" y="302.18" width="21.19" height="17.94" fill="#6788ee"/>
<rect x="303.12" y="302.18" width="21.19" height="17.94" fill="#6384eb"/>
<rect x="324.01" y="302.18" width="21.19" height="17.94" fill="#6180e9"/>
<rect x="344.90" y="302.18" width="21.19" height="17.94" fill="#5e7de7"/>
<rect x="365.80" y="302.18" width="21.19" height="17.94" fill="#5b7ae5"/>
<rect x="386.69" y="302.18" width="21.19" height="17.94" fill="#5a78e4"/>
<rect x="407.58" y="302.18" width="21.19" height="17.94" fill="#5875e1"/>
<rect x="428.48" y="302.18" width="21.19" height="17.94" fill="#5673e0"/>
<rect x="449.37" y="302.18" width="21.19" height="17.94" fill="#5572df"/>
<rect x="470.26" y="302.18" width="21.19" height="17.94" fill="#5470de"/>
<rect x="491.16" y="302.18" width="21.19" height="17.94" fill="#536edd"/>
<rect x="512.05" y="302.18" width="21.19" height="17.94" fill="#516ddb"/>
<rect x="532.95" y="302.18" width="21.19" height="17.94" fill="#506bda"/>
<rect x="553.84" y="302.18" width="21.19" height="17.94" fill="#506bda"/>
<rect x="574.73" y="302.18" width="21.19" height="17.94" fill="#4f69d9"/>
<rect x="595.63" y="302.18" width="21.19" height="17.94" fill="#4e68d8"/>
<rect x="616.52" y="302.18" width="21.19" height="17.94" fill="#4e68d8"/>
<rect x="637.41" y="302.18" width="21.19" height="17.94" fill="#4c66d6"/>
<rect x="658.31" y="302.18" width="21.19" height="17.94" fill="#4c66d6"/>
<rect x="31.50" y="319.82" width="21.19" height="17.94" fill="#b40426"/>
<rect x="52.39" y="319.82" width="21.19" height="17.94" fill="#b40426"/>
<rect x="73.29" y="319.82" width="21.19" height="17.94" fill="#cd423b"/>
<rect x="94.18" y="319.82" width="21.19" height="17.94" fill="#f7af91"/>
<rect x="115.07" y="319.82" width="21.19" height="17.94" fill="#ead4c8"/>
<rect x="135.97" y="319.82" width="21.19" height="17.94" fill="#d3dbe7"/>
<rect x="156.86" y="319.82" width="21.19" height="17.94" fill="#bfd3f6"/>
<rect x="177.75" y="319.82" width="21.19" height="17.94" fill="#aec9fc"/>
<rect x="198.65" y="319.82" width="21.19" height="17.94" fill="#a2c1ff"/>
<rect x="219.54" y="319.82" width="21.19" height="17.94" fill="#97b8ff"/>
<rect x="240.44" y="319.82" width="21.19" height="17.94" fill="#8db0fe"/>
<rect x="261.33" y="319.82" width="21.19" height="17.94" fill="#86a9fc"/>
<rect x="282.22" y="319.82" width="21.19" height="17.94" fill="#80a3fa"/>
<rect x="303.12" y="319.82" width="21.19" height="17.94" fill="#7a9df8"/>
<rect x="324.01" y="319.82" width="21.19" height="17.94" fill="#7699f6"/>
<rect x="344.90" y="319.82" width="21.19" height="17.94" fill="#7295f4"/>
<rect x="365.80" y="319.82" width="21.19" height="17.94" fill="#6e90f2"/>
<rect x="386.69" y="319.82" width="21.19" height="17.94" fill="#6b8df0"/>
<rect x="407.58" y="319.82" width="21.19" height="17.94" fill="#688aef"/>
<rect x="428.48" y="319.82" width="21.19" height="17.94" fill="#6687ed"/>
<rect x="449.37" y="319.82" width="21.19" height="17.94" fill="#6384eb"/>
<rect x="470.26" y="319.82" width="21.19" height="17.94" fill="#6282ea"/>
<rect x="491.16" y="319.82" width="21.19" height="17.94" fill="#5f7fe8"/>
<rect x="512.05" y="319.82" width="21.19" height="17.94" fill="#5e7de7"/>
<rect x="532.95" y="319.82" width="21.19" height="17.94" fill="#5d7ce6"/>
<rect x="553.84" y="319.82" width="21.19" height="17.94" fill="#5b7ae5"/>
<rect x="574.73" y="319.82" width="21.19" height="17.94" fill="#5a78e4"/>
<rect x="595.63" y="319.82" width="21.19" height="17.94" fill="#5977e3"/>
<rect x="616.52" y="319.82" width="21.19" height="17.94" fill="#5875e1"/>
<rect x="637.41" y="319.82" width="21.19" height="17.94" fill="#5673e0"/>
<rect x="658.31" y="319.82" width="21.19" height="17.94" fill="#5572df"/>
<rect x="31.50" y="337.46" width="21.19" height="17.94" fill="#b40426"/>
<rect x="52.39" y="337.46" width="21.19" height="17.94" fill="#b40426"/>
<rect x="73.29" y="337.46" width="21.19" height="17.94" fill="#b40426"/>
<rect x="94.18" y="337.46" width="21.19" height="17.94" fill="#b40426"/>
<rect x="115.07" y="337.46" width="21.19" height="17.94" fill="#b40426"/>
<rect x="135.97" y="337.46" width="21.19" height="17.94" fill="#cd423b"/>
<rect x="156.86" y="337.46" width="21.19" height="17.94" fill="#ee8669"/>
<rect x="177.75" y="337.46" width="21.19" height="17.94" fill="#f7af91"/>
<rect x="198.65" y="337.46" width="21.19" height="17.94" fill="#f4c6af"/>
<rect x="219.54" y="337.46" width="21.19" height="17.94" fill="#ead4c8"/>
<rect x="240.44" y="337.46" width="21.19" height="17.94" fill="#dedcdb"/>
<rect x="261.33" y="337.46" width="21.19" height="17.94" fill="#d3dbe7"/>
<rect x="282.22" y="337.46" width="21.19" height="17.94" fill="#c9d7f0"/>
<rect x="303.12" y="337.46" width="21.19" height="17.94" fill="#bfd3f6"/>
<rect x="324.01" y="337.46" width="21.19" height="17.94" fill="#b6cefa"/>
<rect x="344.90" y="337.46" width="21.19" height="17.94" fill="#aec9fc"/>
<rect x="365.80" y="337.46" width="21.19" height="17.94" fill="#a7c5fe"/>
<rect x="386.69" y="337.46" width="21.19" height="17.94" fill="#a2c1ff"/>
<rect x="407.58" y="337.46" width="21.19" height="17.94" fill="#9bbcff"/>
<rect x="428.48" y="337.46" width="21.19" height="17.94" fill="#97b8ff"/>
<rect x="449.37" y="337.46" width="21.19" height="17.94" fill="#92b4fe"/>
<rect x="470.26" y="337.46" width="21.19" height="17.94" fill="#8db0fe"/>
<rect x="491.16" y="337.46" width="21.19" height="17.94" fill="#89acfd"/>
<rect x="512.05" y="337.46" width="21.19" height="17.94" fill="#86a9fc"/>
<rect x="532.95" y="337.46" width="21.19" height="17.94" fill="#82a6fb"/>
<rect x="553.84" y="337.46" width="21.19" height="17.94" fill="#80a3fa"/>
<rect x="574.73" y="337.46" width="21.19" height="17.94" fill="#7da0f9"/>
<rect x="595.63" y="337.46" width="21.19" height="17.94" fill="#7a9df8"/>
<rect x="616.52" y="337.46" width="21.19" height="17.94" fill="#799cf8"/>
<rect x="637.41" y="337.46" width="21.19" height="17.94" fill="#7699f6"/>
<rect x="658.31" y="337.46" width="21.19" height="17.94" fill="#7396f5"/>
</g>
<path d="M31.50 55.2V355.1M52.39 55.2V355.1M73.29 55.2V355.1M94.18 55.2V355.1M115.07 55.2V355.1M135.97 55.2V355.1M156.86 55.2V355.1M177.75 55.2V355.1M198.65 55.2V355.1M219.54 55.2V355.1M240.44 55.2V355.1M261.33 55.2V355.1M282.22 55.2V355.1M303.12 55.2V355.1M324.01 55.2V355.1M344.90 55.2V355.1M365.80 55.2V355.1M386.69 55.2V355.1M407.58 55.2V355.1M428.48 55.2V355.1M449.37 55.2V355.1M470.26 55.2V355.1M491.16 55.2V355.1M512.05 55.2V355.1M532.95 55.2V355.1M553.84 55.2V355.1M574.73 55.2V355.1M595.63 55.2V355.1M616.52 55.2V355.1M637.41 55.2V355.1M658.31 55.2V355.1M679.20 55.2V355.1M31.5 55.20H679.2M31.5 72.84H679.2M31.5 90.48H679.2M31.5 108.12H679.2M31.5 125.76H679.2M31.5 143.41H679.2M31.5 161.05H679.2M31.5 178.69H679.2M31.5 196.33H679.2M31.5 213.97H679.2M31.5 231.61H679.2M31.5 249.25H679.2M31.5 266.89H679.2M31.5 284.54H679.2M31.5 302.18H679.2M31.5 319.82H679.2M31.5 337.46H679.2M31.5 355.10H679.2" stroke="#000" stroke-width="0.5" fill="none" clip-path="url(#ax)"/>
<g font-size="10.4" text-anchor="end" fill="#000">
<text x="29.5" y="67.82">34</text>
<text x="29.5" y="85.46">32</text>
<text x="29.5" y="103.10">30</text>
<text x="29.5" y="120.74">28</text>
<text x="29.5" y="138.39">26</text>
<text x="29.5" y="156.03">24</text>
<text x="29.5" y="173.67">22</text>
<text x="29.5" y="191.31">20</text>
<text x="29.5" y="208.95">18</text>
<text x="29.5" y="226.59">16</text>
<text x="29.5" y="244.23">14</text>
<text x="29.5" y="261.87">12</text>
<text x="29.5" y="279.51">10</text>
<text x="29.5" y="297.16">8</text>
<text x="29.5" y="314.80">6</text>
<text x="29.5" y="332.44">4</text>
<text x="29.5" y="350.08">2</text>
</g>
<g font-size="10.2" fill="#000">
<text transform="translate(45.25,357.7) rotate(-90)" text-anchor="end">50</text>
<text transform="translate(66.14,357.7) rotate(-90)" text-anchor="end">100</text>
<text transform="translate(87.03,357.7) rotate(-90)" text-anchor="end">150</text>
<text transform="translate(107.93,357.7) rotate(-90)" text-anchor="end">200</text>
<text transform="translate(128.82,357.7) rotate(-90)" text-anchor="end">250</text>
<text transform="translate(149.71,357.7) rotate(-90)" text-anchor="end">300</text>
<text transform="translate(170.61,357.7) rotate(-90)" text-anchor="end">350</text>
<text transform="translate(191.50,357.7) rotate(-90)" text-anchor="end">400</text>
<text transform="translate(212.40,357.7) rotate(-90)" text-anchor="end">450</text>
<text transform="translate(233.29,357.7) rotate(-90)" text-anchor="end">500</text>
<text transform="translate(254.18,357.7) rotate(-90)" text-anchor="end">550</text>
<text transform="translate(275.08,357.7) rotate(-90)" text-anchor="end">600</text>
<text transform="translate(295.97,357.7) rotate(-90)" text-anchor="end">650</text>
<text transform="translate(316.86,357.7) rotate(-90)" text-anchor="end">700</text>
<text transform="translate(337.76,357.7) rotate(-90)" text-anchor="end">750</text>
<text transform="translate(358.65,357.7) rotate(-90)" text-anchor="end">800</text>
<text transform="translate(379.54,357.7) rotate(-90)" text-anchor="end">850</text>
<text transform="translate(400.44,357.7) rotate(-90)" text-anchor="end">900</text>
<text transform="translate(421.33,357.7) rotate(-90)" text-anchor="end">950</text>
<text transform="translate(442.22,357.7) rotate(-90)" text-anchor="end">1000</text>
<text transform="translate(463.12,357.7) rotate(-90)" text-anchor="end">1050</text>
<text transform="translate(484.01,357.7) rotate(-90)" text-anchor="end">1100</text>
<text transform="translate(504.90,357.7) rotate(-90)" text-anchor="end">1150</text>
<text transform="translate(525.80,357.7) rotate(-90)" text-anchor="end">1200</text>
<text transform="translate(546.69,357.7) rotate(-90)" text-anchor="end">1250</text>
<text transform="translate(567.59,357.7) rotate(-90)" text-anchor="end">1300</text>
<text transform="translate(588.48,357.7) rotate(-90)" text-anchor="end">1350</text>
<text transform="translate(609.37,357.7) rotate(-90)" text-anchor="end">1400</text>
<text transform="translate(630.27,357.7) rotate(-90)" text-anchor="end">1450</text>
<text transform="translate(651.16,357.7) rotate(-90)" text-anchor="end">1500</text>
<text transform="translate(672.05,357.7) rotate(-90)" text-anchor="end">1550</text>
<text transform="translate(45.25,53.1) rotate(-90)" text-anchor="start">20.0</text>
<text transform="translate(66.14,53.1) rotate(-90)" text-anchor="start">10.0</text>
<text transform="translate(87.03,53.1) rotate(-90)" text-anchor="start">6.7</text>
<text transform="translate(107.93,53.1) rotate(-90)" text-anchor="start">5.0</text>
<text transform="translate(128.82,53.1) rotate(-90)" text-anchor="start">4.0</text>
<text transform="translate(149.71,53.1) rotate(-90)" text-anchor="start">3.3</text>
<text transform="translate(170.61,53.1) rotate(-90)" text-anchor="start">2.9</text>
<text transform="translate(191.50,53.1) rotate(-90)" text-anchor="start">2.5</text>
<text transform="translate(212.40,53.1) rotate(-90)" text-anchor="start">2.2</text>
<text transform="translate(233.29,53.1) rotate(-90)" text-anchor="start">2.0</text>
<text transform="translate(254.18,53.1) rotate(-90)" text-anchor="start">1.8</text>
<text transform="translate(275.08,53.1) rotate(-90)" text-anchor="start">1.7</text>
<text transform="translate(295.97,53.1) rotate(-90)" text-anchor="start">1.5</text>
<text transform="translate(316.86,53.1) rotate(-90)" text-anchor="start">1.4</text>
<text transform="translate(337.76,53.1) rotate(-90)" text-anchor="start">1.3</text>
<text transform="translate(358.65,53.1) rotate(-90)" text-anchor="start">1.2</text>
<text transform="translate(379.54,53.1) rotate(-90)" text-anchor="start">1.2</text>
<text transform="translate(400.44,53.1) rotate(-90)" text-anchor="start">1.1</text>
<text transform="translate(421.33,53.1) rotate(-90)" text-anchor="start">1.1</text>
<text transform="translate(442.22,53.1) rotate(-90)" text-anchor="start">1.0</text>
<text transform="translate(463.12,53.1) rotate(-90)" text-anchor="start">1.0</text>
<text transform="translate(484.01,53.1) rotate(-90)" text-anchor="start">0.9</text>
<text transform="translate(504.90,53.1) rotate(-90)" text-anchor="start">0.9</text>
<text transform="translate(525.80,53.1) rotate(-90)" text-anchor="start">0.8</text>
<text transform="translate(546.69,53.1) rotate(-90)" text-anchor="start">0.8</text>
<text transform="translate(567.59,53.1) rotate(-90)" text-anchor="start">0.8</text>
<text transform="translate(588.48,53.1) rotate(-90)" text-anchor="start">0.7</text>
<text transform="translate(609.37,53.1) rotate(-90)" text-anchor="start">0.7</text>
<text transform="translate(630.27,53.1) rotate(-90)" text-anchor="start">0.7</text>
<text transform="translate(651.16,53.1) rotate(-90)" text-anchor="start">0.7</text>
<text transform="translate(672.05,53.1) rotate(-90)" text-anchor="start">0.6</text>
</g>
<path d="M41.95 355.1v1M41.95 55.2v-1M62.84 355.1v1M62.84 55.2v-1M83.73 355.1v1M83.73 55.2v-1M104.63 355.1v1M104.63 55.2v-1M125.52 355.1v1M125.52 55.2v-1M146.41 355.1v1M146.41 55.2v-1M167.31 355.1v1M167.31 55.2v-1M188.20 355.1v1M188.20 55.2v-1M209.10 355.1v1M209.10 55.2v-1M229.99 355.1v1M229.99 55.2v-1M250.88 355.1v1M250.88 55.2v-1M271.78 355.1v1M271.78 55.2v-1M292.67 355.1v1M292.67 55.2v-1M313.56 355.1v1M313.56 55.2v-1M334.46 355.1v1M334.46 55.2v-1M355.35 355.1v1M355.35 55.2v-1M376.24 355.1v1M376.24 55.2v-1M397.14 355.1v1M397.14 55.2v-1M418.03 355.1v1M418.03 55.2v-1M438.92 355.1v1M438.92 55.2v-1M459.82 355.1v1M459.82 55.2v-1M480.71 355.1v1M480.71 55.2v-1M501.60 355.1v1M501.60 55.2v-1M522.50 355.1v1M522.50 55.2v-1M543.39 355.1v1M543.39 55.2v-1M564.29 355.1v1M564.29 55.2v-1M585.18 355.1v1M585.18 55.2v-1M606.07 355.1v1M606.07 55.2v-1M626.97 355.1v1M626.97 55.2v-1M647.86 355.1v1M647.86 55.2v-1M668.75 355.1v1M668.75 55.2v-1M31.5 64.02h-1M31.5 81.66h-1M31.5 99.30h-1M31.5 116.94h-1M31.5 134.59h-1M31.5 152.23h-1M31.5 169.87h-1M31.5 187.51h-1M31.5 205.15h-1M31.5 222.79h-1M31.5 240.43h-1M31.5 258.07h-1M31.5 275.71h-1M31.5 293.36h-1M31.5 311.00h-1M31.5 328.64h-1M31.5 346.28h-1" stroke="#000" stroke-width="0.7" fill="none" opacity="0.6"/>
<g clip-path="url(#ax)" fill="none" stroke-width="1.15" stroke-linecap="square">
<circle cx="59.4" cy="68.1" r="3.0" fill="#ffc814" stroke="none"/>
<circle cx="98.0" cy="215.6" r="3.0" fill="#ffc814" stroke="none"/>
<circle cx="174.0" cy="289.6" r="3.0" fill="#ffc814" stroke="none"/>
<circle cx="321.5" cy="326.8" r="3.0" fill="#ffc814" stroke="none"/>
<circle cx="604.4" cy="345.2" r="3.0" fill="#ffc814" stroke="none"/>
<polyline points="37.77,-1014.30 39.40,-891.58 41.04,-788.93 42.67,-701.79 44.30,-626.91 45.94,-561.85 47.57,-504.81 49.20,-454.40 50.84,-409.51 52.47,-369.29 54.11,-333.05 55.74,-300.22 57.37,-270.35 59.01,-243.04 60.64,-217.99 62.27,-194.93 63.91,-173.62 65.54,-153.88 67.18,-135.54 68.81,-118.46 70.44,-102.50 72.08,-87.56 73.71,-73.56 75.35,-60.39 76.98,-48.00 78.61,-36.30 80.25,-25.26 81.88,-14.80 83.51,-4.90 85.15,4.50 86.78,13.44 88.42,21.94 90.05,30.04 91.68,37.76 93.32,45.13 94.95,52.18 96.58,58.92 98.22,65.38 99.85,71.57 101.49,77.51 103.12,83.21 104.75,88.69 106.39,93.96 108.02,99.03 109.65,103.92 111.29,108.62 112.92,113.16 114.56,117.55 116.19,121.78 117.82,125.86 119.46,129.82 121.09,133.64 122.72,137.34 124.36,140.92 125.99,144.40 127.63,147.76 129.26,151.03 130.89,154.19 132.53,157.27 134.16,160.25 135.79,163.15 137.43,165.97 139.06,168.71 140.70,171.38 142.33,173.97 143.96,176.49 145.60,178.95 147.23,181.35 148.87,183.68 150.50,185.96 152.13,188.17 153.77,190.34 155.40,192.45 157.03,194.51 158.67,196.52 160.30,198.48 161.94,200.40 163.57,202.28 165.20,204.11 166.84,205.90 168.47,207.65 170.10,209.37 171.74,211.04 173.37,212.68 175.01,214.29 176.64,215.86 178.27,217.40 179.91,218.90 181.54,220.38 183.17,221.83 184.81,223.24 186.44,224.63 188.08,226.00 189.71,227.33 191.34,228.64 192.98,229.93 194.61,231.19 196.24,232.43 197.88,233.64 199.51,234.83 201.15,236.01 202.78,237.16 204.41,238.28 206.05,239.39 207.68,240.48 209.32,241.56 210.95,242.61 212.58,243.64 214.22,244.66 215.85,245.66 217.48,246.64 219.12,247.61 220.75,248.56 222.39,249.50 224.02,250.42 225.65,251.33 227.29,252.22 228.92,253.10 230.55,253.96 232.19,254.81 233.82,255.65 235.46,256.47 237.09,257.29 238.72,258.09 240.36,258.88 241.99,259.65 243.62,260.42 245.26,261.17 246.89,261.92 248.53,262.65 250.16,263.37 251.79,264.08 253.43,264.78 255.06,265.48 256.69,266.16 258.33,266.83 259.96,267.50 261.60,268.15 263.23,268.80 264.86,269.43 266.50,270.06 268.13,270.68 269.76,271.30 271.40,271.90 273.03,272.50 274.67,273.09 276.30,273.67 277.93,274.24 279.57,274.81 281.20,275.37 282.84,275.92 284.47,276.47 286.10,277.01 287.74,277.54 289.37,278.06 291.00,278.58 292.64,279.10 294.27,279.60 295.91,280.11 297.54,280.60 299.17,281.09 300.81,281.57 302.44,282.05 304.07,282.53 305.71,282.99 307.34,283.45 308.98,283.91 310.61,284.36 312.24,284.81 313.88,285.25 315.51,285.69 317.14,286.12 318.78,286.54 320.41,286.97 322.05,287.38 323.68,287.80 325.31,288.21 326.95,288.61 328.58,289.01 330.21,289.41 331.85,289.80 333.48,290.19 335.12,290.57 336.75,290.95 338.38,291.33 340.02,291.70 341.65,292.07 343.29,292.43 344.92,292.79 346.55,293.15 348.19,293.50 349.82,293.85 351.45,294.20 353.09,294.54 354.72,294.88 356.36,295.22 357.99,295.55 359.62,295.88 361.26,296.21 362.89,296.53 364.52,296.85 366.16,297.17 367.79,297.48 369.43,297.79 371.06,298.10 372.69,298.41 374.33,298.71 375.96,299.01 377.59,299.31 379.23,299.60 380.86,299.90 382.50,300.19 384.13,300.47 385.76,300.76 387.40,301.04 389.03,301.32 390.66,301.59 392.30,301.87 393.93,302.14 395.57,302.41 397.20,302.68 398.83,302.94 400.47,303.20 402.10,303.46 403.74,303.72 405.37,303.98 407.00,304.23 408.64,304.48 410.27,304.73 411.90,304.98 413.54,305.23 415.17,305.47 416.81,305.71 418.44,305.95 420.07,306.19 421.71,306.42 423.34,306.66 424.97,306.89 426.61,307.12 428.24,307.35 429.88,307.57 431.51,307.80 433.14,308.02 434.78,308.24 436.41,308.46 438.04,308.68 439.68,308.89 441.31,309.11 442.95,309.32 444.58,309.53 446.21,309.74 447.85,309.94 449.48,310.15 451.11,310.35 452.75,310.56 454.38,310.76 456.02,310.96 457.65,311.16 459.28,311.35 460.92,311.55 462.55,311.74 464.18,311.93 465.82,312.13 467.45,312.32 469.09,312.50 470.72,312.69 472.35,312.88 473.99,313.06 475.62,313.24 477.26,313.42 478.89,313.60 480.52,313.78 482.16,313.96 483.79,314.14 485.42,314.31 487.06,314.49 488.69,314.66 490.33,314.83 491.96,315.00 493.59,315.17 495.23,315.34 496.86,315.50 498.49,315.67 500.13,315.83 501.76,316.00 503.40,316.16 505.03,316.32 506.66,316.48 508.30,316.64 509.93,316.80 511.56,316.96 513.20,317.11 514.83,317.27 516.47,317.42 518.10,317.57 519.73,317.73 521.37,317.88 523.00,318.03 524.63,318.17 526.27,318.32 527.90,318.47 529.54,318.62 531.17,318.76 532.80,318.91 534.44,319.05 536.07,319.19 537.71,319.33 539.34,319.47 540.97,319.61 542.61,319.75 544.24,319.89 545.87,320.03 547.51,320.16 549.14,320.30 550.78,320.43 552.41,320.57 554.04,320.70 555.68,320.83 557.31,320.96 558.94,321.09 560.58,321.22 562.21,321.35 563.85,321.48 565.48,321.61 567.11,321.73 568.75,321.86 570.38,321.98 572.01,322.11 573.65,322.23 575.28,322.36 576.92,322.48 578.55,322.60 580.18,322.72 581.82,322.84 583.45,322.96 585.08,323.08 586.72,323.20 588.35,323.31 589.99,323.43 591.62,323.55 593.25,323.66 594.89,323.78 596.52,323.89 598.16,324.00 599.79,324.12 601.42,324.23 603.06,324.34 604.69,324.45 606.32,324.56 607.96,324.67 609.59,324.78 611.23,324.89 612.86,324.99 614.49,325.10 616.13,325.21 617.76,325.31 619.39,325.42 621.03,325.52 622.66,325.63 624.30,325.73 625.93,325.84 627.56,325.94 629.20,326.04 630.83,326.14 632.46,326.24 634.10,326.34 635.73,326.44 637.37,326.54 639.00,326.64 640.63,326.74 642.27,326.84 643.90,326.93 645.53,327.03 647.17,327.13 648.80,327.22 650.44,327.32 652.07,327.41 653.70,327.51 655.34,327.60 656.97,327.69 658.60,327.79 660.24,327.88 661.87,327.97 663.51,328.06 665.14,328.15 666.77,328.24 668.41,328.33 670.04,328.42 671.68,328.51 673.31,328.60 674.94,328.69 676.58,328.78 678.21,328.87 679.84,328.95 681.48,329.04 683.11,329.13 684.75,329.21 686.38,329.30 688.01,329.38 689.65,329.47" stroke="#fff"/>
<polyline points="37.77,-315.26 39.40,-254.79 41.04,-204.20 42.67,-161.26 44.30,-124.36 45.94,-92.30 47.57,-64.19 49.20,-39.35 50.84,-17.23 52.47,2.59 54.11,20.45 55.74,36.63 57.37,51.35 59.01,64.81 60.64,77.15 62.27,88.52 63.91,99.02 65.54,108.75 67.18,117.79 68.81,126.21 70.44,134.07 72.08,141.43 73.71,148.33 75.35,154.82 76.98,160.93 78.61,166.69 80.25,172.13 81.88,177.28 83.51,182.17 85.15,186.80 86.78,191.20 88.42,195.39 90.05,199.38 91.68,203.19 93.32,206.82 94.95,210.30 96.58,213.62 98.22,216.80 99.85,219.85 101.49,222.78 103.12,225.59 104.75,228.29 106.39,230.88 108.02,233.38 109.65,235.79 111.29,238.11 112.92,240.35 114.56,242.51 116.19,244.59 117.82,246.61 119.46,248.55 121.09,250.44 122.72,252.26 124.36,254.03 125.99,255.74 127.63,257.40 129.26,259.01 130.89,260.57 132.53,262.08 134.16,263.55 135.79,264.98 137.43,266.37 139.06,267.72 140.70,269.03 142.33,270.31 143.96,271.56 145.60,272.77 147.23,273.95 148.87,275.10 150.50,276.22 152.13,277.31 153.77,278.38 155.40,279.42 157.03,280.43 158.67,281.43 160.30,282.39 161.94,283.34 163.57,284.26 165.20,285.17 166.84,286.05 168.47,286.91 170.10,287.76 171.74,288.58 173.37,289.39 175.01,290.18 176.64,290.95 178.27,291.71 179.91,292.46 181.54,293.18 183.17,293.90 184.81,294.59 186.44,295.28 188.08,295.95 189.71,296.61 191.34,297.26 192.98,297.89 194.61,298.51 196.24,299.12 197.88,299.72 199.51,300.31 201.15,300.88 202.78,301.45 204.41,302.01 206.05,302.55 207.68,303.09 209.32,303.62 210.95,304.14 212.58,304.65 214.22,305.15 215.85,305.64 217.48,306.13 219.12,306.60 220.75,307.07 222.39,307.53 224.02,307.99 225.65,308.43 227.29,308.87 228.92,309.31 230.55,309.73 232.19,310.15 233.82,310.56 235.46,310.97 237.09,311.37 238.72,311.77 240.36,312.15 241.99,312.54 243.62,312.91 245.26,313.29 246.89,313.65 248.53,314.01 250.16,314.37 251.79,314.72 253.43,315.07 255.06,315.41 256.69,315.74 258.33,316.08 259.96,316.40 261.60,316.73 263.23,317.04 264.86,317.36 266.50,317.67 268.13,317.97 269.76,318.28 271.40,318.57 273.03,318.87 274.67,319.16 276.30,319.44 277.93,319.73 279.57,320.01 281.20,320.28 282.84,320.55 284.47,320.82 286.10,321.09 287.74,321.35 289.37,321.61 291.00,321.87 292.64,322.12 294.27,322.37 295.91,322.62 297.54,322.86 299.17,323.10 300.81,323.34 302.44,323.58 304.07,323.81 305.71,324.04 307.34,324.27 308.98,324.49 310.61,324.71 312.24,324.93 313.88,325.15 315.51,325.37 317.14,325.58 318.78,325.79 320.41,326.00 322.05,326.20 323.68,326.41 325.31,326.61 326.95,326.81 328.58,327.01 330.21,327.20 331.85,327.39 333.48,327.58 335.12,327.77 336.75,327.96 338.38,328.15 340.02,328.33 341.65,328.51 343.29,328.69 344.92,328.87 346.55,329.04 348.19,329.22 349.82,329.39 351.45,329.56 353.09,329.73 354.72,329.90 356.36,330.06 357.99,330.23 359.62,330.39 361.26,330.55 362.89,330.71 364.52,330.87 366.16,331.02 367.79,331.18 369.43,331.33 371.06,331.49 372.69,331.64 374.33,331.79 375.96,331.93 377.59,332.08 379.23,332.23 380.86,332.37 382.50,332.51 384.13,332.65 385.76,332.79 387.40,332.93 389.03,333.07 390.66,333.21 392.30,333.34 393.93,333.48 395.57,333.61 397.20,333.74 398.83,333.87 400.47,334.00 402.10,334.13 403.74,334.26 405.37,334.38 407.00,334.51 408.64,334.63 410.27,334.75 411.90,334.88 413.54,335.00 415.17,335.12 416.81,335.23 418.44,335.35 420.07,335.47 421.71,335.59 423.34,335.70 424.97,335.81 426.61,335.93 428.24,336.04 429.88,336.15 431.51,336.26 433.14,336.37 434.78,336.48 436.41,336.59 438.04,336.70 439.68,336.80 441.31,336.91 442.95,337.01 444.58,337.12 446.21,337.22 447.85,337.32 449.48,337.42 451.11,337.52 452.75,337.62 454.38,337.72 456.02,337.82 457.65,337.92 459.28,338.02 460.92,338.11 462.55,338.21 464.18,338.30 465.82,338.40 467.45,338.49 469.09,338.58 470.72,338.67 472.35,338.77 473.99,338.86 475.62,338.95 477.26,339.04 478.89,339.12 480.52,339.21 482.16,339.30 483.79,339.39 485.42,339.47 487.06,339.56 488.69,339.64 490.33,339.73 491.96,339.81 493.59,339.90 495.23,339.98 496.86,340.06 498.49,340.14 500.13,340.22 501.76,340.30 503.40,340.38 505.03,340.46 506.66,340.54 508.30,340.62 509.93,340.70 511.56,340.78 513.20,340.85 514.83,340.93 516.47,341.01 518.10,341.08 519.73,341.16 521.37,341.23 523.00,341.30 524.63,341.38 526.27,341.45 527.90,341.52 529.54,341.59 531.17,341.67 532.80,341.74 534.44,341.81 536.07,341.88 537.71,341.95 539.34,342.02 540.97,342.09 542.61,342.15 544.24,342.22 545.87,342.29 547.51,342.36 549.14,342.42 550.78,342.49 552.41,342.56 554.04,342.62 555.68,342.69 557.31,342.75 558.94,342.82 560.58,342.88 562.21,342.94 563.85,343.01 565.48,343.07 567.11,343.13 568.75,343.19 570.38,343.25 572.01,343.32 573.65,343.38 575.28,343.44 576.92,343.50 578.55,343.56 580.18,343.62 581.82,343.68 583.45,343.73 585.08,343.79 586.72,343.85 588.35,343.91 589.99,343.97 591.62,344.02 593.25,344.08 594.89,344.14 596.52,344.19 598.16,344.25 599.79,344.30 601.42,344.36 603.06,344.41 604.69,344.47 606.32,344.52 607.96,344.58 609.59,344.63 611.23,344.68 612.86,344.74 614.49,344.79 616.13,344.84 617.76,344.90 619.39,344.95 621.03,345.00 622.66,345.05 624.30,345.10 625.93,345.15 627.56,345.20 629.20,345.25 630.83,345.30 632.46,345.35 634.10,345.40 635.73,345.45 637.37,345.50 639.00,345.55 640.63,345.60 642.27,345.65 643.90,345.69 645.53,345.74 647.17,345.79 648.80,345.84 650.44,345.88 652.07,345.93 653.70,345.98 655.34,346.02 656.97,346.07 658.60,346.11 660.24,346.16 661.87,346.21 663.51,346.25 665.14,346.29 666.77,346.34 668.41,346.38 670.04,346.43 671.68,346.47 673.31,346.52 674.94,346.56 676.58,346.60 678.21,346.65 679.84,346.69 681.48,346.73 683.11,346.77 684.75,346.82 686.38,346.86 688.01,346.90 689.65,346.94" stroke="#000" stroke-width="1.05"/>
</g>
<g font-size="7.0" text-anchor="middle" stroke-width="0.22">
<text x="41.95" y="66.12" fill="#111" stroke="#111">9.8</text>
<text x="62.84" y="66.12" fill="#fff" stroke="#fff" stroke-width="0.08">4.9</text>
<text x="83.73" y="66.12" fill="#fff" stroke="#fff" stroke-width="0.08">3.3</text>
<text x="104.63" y="66.12" fill="#fff" stroke="#fff" stroke-width="0.08">2.5</text>
<text x="125.52" y="66.12" fill="#fff" stroke="#fff" stroke-width="0.08">2.0</text>
<text x="146.41" y="66.12" fill="#fff" stroke="#fff" stroke-width="0.08">1.6</text>
<text x="167.31" y="66.12" fill="#fff" stroke="#fff" stroke-width="0.08">1.4</text>
<text x="188.20" y="66.12" fill="#fff" stroke="#fff" stroke-width="0.08">1.2</text>
<text x="209.10" y="66.12" fill="#fff" stroke="#fff" stroke-width="0.08">1.1</text>
<text x="229.99" y="66.12" fill="#fff" stroke="#fff" stroke-width="0.08">1.0</text>
<text x="250.88" y="66.12" fill="#fff" stroke="#fff" stroke-width="0.08">0.9</text>
<text x="271.78" y="66.12" fill="#fff" stroke="#fff" stroke-width="0.08">0.8</text>
<text x="292.67" y="66.12" fill="#fff" stroke="#fff" stroke-width="0.08">0.8</text>
<text x="313.56" y="66.12" fill="#fff" stroke="#fff" stroke-width="0.08">0.7</text>
<text x="334.46" y="66.12" fill="#fff" stroke="#fff" stroke-width="0.08">0.7</text>
<text x="355.35" y="66.12" fill="#fff" stroke="#fff" stroke-width="0.08">0.6</text>
<text x="376.24" y="66.12" fill="#fff" stroke="#fff" stroke-width="0.08">0.6</text>
<text x="397.14" y="66.12" fill="#fff" stroke="#fff" stroke-width="0.08">0.5</text>
<text x="418.03" y="66.12" fill="#fff" stroke="#fff" stroke-width="0.08">0.5</text>
<text x="438.92" y="66.12" fill="#fff" stroke="#fff" stroke-width="0.08">0.5</text>
<text x="459.82" y="66.12" fill="#fff" stroke="#fff" stroke-width="0.08">0.5</text>
<text x="480.71" y="66.12" fill="#fff" stroke="#fff" stroke-width="0.08">0.4</text>
<text x="501.60" y="66.12" fill="#fff" stroke="#fff" stroke-width="0.08">0.4</text>
<text x="522.50" y="66.12" fill="#fff" stroke="#fff" stroke-width="0.08">0.4</text>
<text x="543.39" y="66.12" fill="#fff" stroke="#fff" stroke-width="0.08">0.4</text>
<text x="564.29" y="66.12" fill="#fff" stroke="#fff" stroke-width="0.08">0.4</text>
<text x="585.18" y="66.12" fill="#fff" stroke="#fff" stroke-width="0.08">0.4</text>
<text x="606.07" y="66.12" fill="#fff" stroke="#fff" stroke-width="0.08">0.4</text>
<text x="626.97" y="66.12" fill="#fff" stroke="#fff" stroke-width="0.08">0.3</text>
<text x="647.86" y="66.12" fill="#fff" stroke="#fff" stroke-width="0.08">0.3</text>
<text x="668.75" y="66.12" fill="#fff" stroke="#fff" stroke-width="0.08">0.3</text>
<text x="41.95" y="83.76" fill="#111" stroke="#111">10.4</text>
<text x="62.84" y="83.76" fill="#fff" stroke="#fff" stroke-width="0.08">5.2</text>
<text x="83.73" y="83.76" fill="#fff" stroke="#fff" stroke-width="0.08">3.5</text>
<text x="104.63" y="83.76" fill="#fff" stroke="#fff" stroke-width="0.08">2.6</text>
<text x="125.52" y="83.76" fill="#fff" stroke="#fff" stroke-width="0.08">2.1</text>
<text x="146.41" y="83.76" fill="#fff" stroke="#fff" stroke-width="0.08">1.7</text>
<text x="167.31" y="83.76" fill="#fff" stroke="#fff" stroke-width="0.08">1.5</text>
<text x="188.20" y="83.76" fill="#fff" stroke="#fff" stroke-width="0.08">1.3</text>
<text x="209.10" y="83.76" fill="#fff" stroke="#fff" stroke-width="0.08">1.2</text>
<text x="229.99" y="83.76" fill="#fff" stroke="#fff" stroke-width="0.08">1.0</text>
<text x="250.88" y="83.76" fill="#fff" stroke="#fff" stroke-width="0.08">0.9</text>
<text x="271.78" y="83.76" fill="#fff" stroke="#fff" stroke-width="0.08">0.9</text>
<text x="292.67" y="83.76" fill="#fff" stroke="#fff" stroke-width="0.08">0.8</text>
<text x="313.56" y="83.76" fill="#fff" stroke="#fff" stroke-width="0.08">0.7</text>
<text x="334.46" y="83.76" fill="#fff" stroke="#fff" stroke-width="0.08">0.7</text>
<text x="355.35" y="83.76" fill="#fff" stroke="#fff" stroke-width="0.08">0.7</text>
<text x="376.24" y="83.76" fill="#fff" stroke="#fff" stroke-width="0.08">0.6</text>
<text x="397.14" y="83.76" fill="#fff" stroke="#fff" stroke-width="0.08">0.6</text>
<text x="418.03" y="83.76" fill="#fff" stroke="#fff" stroke-width="0.08">0.5</text>
<text x="438.92" y="83.76" fill="#fff" stroke="#fff" stroke-width="0.08">0.5</text>
<text x="459.82" y="83.76" fill="#fff" stroke="#fff" stroke-width="0.08">0.5</text>
<text x="480.71" y="83.76" fill="#fff" stroke="#fff" stroke-width="0.08">0.5</text>
<text x="501.60" y="83.76" fill="#fff" stroke="#fff" stroke-width="0.08">0.5</text>
<text x="522.50" y="83.76" fill="#fff" stroke="#fff" stroke-width="0.08">0.4</text>
<text x="543.39" y="83.76" fill="#fff" stroke="#fff" stroke-width="0.08">0.4</text>
<text x="564.29" y="83.76" fill="#fff" stroke="#fff" stroke-width="0.08">0.4</text>
<text x="585.18" y="83.76" fill="#fff" stroke="#fff" stroke-width="0.08">0.4</text>
<text x="606.07" y="83.76" fill="#fff" stroke="#fff" stroke-width="0.08">0.4</text>
<text x="626.97" y="83.76" fill="#fff" stroke="#fff" stroke-width="0.08">0.4</text>
<text x="647.86" y="83.76" fill="#fff" stroke="#fff" stroke-width="0.08">0.3</text>
<text x="668.75" y="83.76" fill="#fff" stroke="#fff" stroke-width="0.08">0.3</text>
<text x="41.95" y="101.40" fill="#111" stroke="#111">11.1</text>
<text x="62.84" y="101.40" fill="#fff" stroke="#fff" stroke-width="0.08">5.6</text>
<text x="83.73" y="101.40" fill="#fff" stroke="#fff" stroke-width="0.08">3.7</text>
<text x="104.63" y="101.40" fill="#fff" stroke="#fff" stroke-width="0.08">2.8</text>
<text x="125.52" y="101.40" fill="#fff" stroke="#fff" stroke-width="0.08">2.2</text>
<text x="146.41" y="101.40" fill="#fff" stroke="#fff" stroke-width="0.08">1.9</text>
<text x="167.31" y="101.40" fill="#fff" stroke="#fff" stroke-width="0.08">1.6</text>
<text x="188.20" y="101.40" fill="#fff" stroke="#fff" stroke-width="0.08">1.4</text>
<text x="209.10" y="101.40" fill="#fff" stroke="#fff" stroke-width="0.08">1.2</text>
<text x="229.99" y="101.40" fill="#fff" stroke="#fff" stroke-width="0.08">1.1</text>
<text x="250.88" y="101.40" fill="#fff" stroke="#fff" stroke-width="0.08">1.0</text>
<text x="271.78" y="101.40" fill="#fff" stroke="#fff" stroke-width="0.08">0.9</text>
<text x="292.67" y="101.40" fill="#fff" stroke="#fff" stroke-width="0.08">0.9</text>
<text x="313.56" y="101.40" fill="#fff" stroke="#fff" stroke-width="0.08">0.8</text>
<text x="334.46" y="101.40" fill="#fff" stroke="#fff" stroke-width="0.08">0.7</text>
<text x="355.35" y="101.40" fill="#fff" stroke="#fff" stroke-width="0.08">0.7</text>
<text x="376.24" y="101.40" fill="#fff" stroke="#fff" stroke-width="0.08">0.7</text>
<text x="397.14" y="101.40" fill="#fff" stroke="#fff" stroke-width="0.08">0.6</text>
<text x="418.03" y="101.40" fill="#fff" stroke="#fff" stroke-width="0.08">0.6</text>
<text x="438.92" y="101.40" fill="#fff" stroke="#fff" stroke-width="0.08">0.6</text>
<text x="459.82" y="101.40" fill="#fff" stroke="#fff" stroke-width="0.08">0.5</text>
<text x="480.71" y="101.40" fill="#fff" stroke="#fff" stroke-width="0.08">0.5</text>
<text x="501.60" y="101.40" fill="#fff" stroke="#fff" stroke-width="0.08">0.5</text>
<text x="522.50" y="101.40" fill="#fff" stroke="#fff" stroke-width="0.08">0.5</text>
<text x="543.39" y="101.40" fill="#fff" stroke="#fff" stroke-width="0.08">0.4</text>
<text x="564.29" y="101.40" fill="#fff" stroke="#fff" stroke-width="0.08">0.4</text>
<text x="585.18" y="101.40" fill="#fff" stroke="#fff" stroke-width="0.08">0.4</text>
<text x="606.07" y="101.40" fill="#fff" stroke="#fff" stroke-width="0.08">0.4</text>
<text x="626.97" y="101.40" fill="#fff" stroke="#fff" stroke-width="0.08">0.4</text>
<text x="647.86" y="101.40" fill="#fff" stroke="#fff" stroke-width="0.08">0.4</text>
<text x="668.75" y="101.40" fill="#fff" stroke="#fff" stroke-width="0.08">0.4</text>
<text x="41.95" y="119.04" fill="#111" stroke="#111">11.9</text>
<text x="62.84" y="119.04" fill="#fff" stroke="#fff" stroke-width="0.08">6.0</text>
<text x="83.73" y="119.04" fill="#fff" stroke="#fff" stroke-width="0.08">4.0</text>
<text x="104.63" y="119.04" fill="#fff" stroke="#fff" stroke-width="0.08">3.0</text>
<text x="125.52" y="119.04" fill="#fff" stroke="#fff" stroke-width="0.08">2.4</text>
<text x="146.41" y="119.04" fill="#fff" stroke="#fff" stroke-width="0.08">2.0</text>
<text x="167.31" y="119.04" fill="#fff" stroke="#fff" stroke-width="0.08">1.7</text>
<text x="188.20" y="119.04" fill="#fff" stroke="#fff" stroke-width="0.08">1.5</text>
<text x="209.10" y="119.04" fill="#fff" stroke="#fff" stroke-width="0.08">1.3</text>
<text x="229.99" y="119.04" fill="#fff" stroke="#fff" stroke-width="0.08">1.2</text>
<text x="250.88" y="119.04" fill="#fff" stroke="#fff" stroke-width="0.08">1.1</text>
<text x="271.78" y="119.04" fill="#fff" stroke="#fff" stroke-width="0.08">1.0</text>
<text x="292.67" y="119.04" fill="#fff" stroke="#fff" stroke-width="0.08">0.9</text>
<text x="313.56" y="119.04" fill="#fff" stroke="#fff" stroke-width="0.08">0.9</text>
<text x="334.46" y="119.04" fill="#fff" stroke="#fff" stroke-width="0.08">0.8</text>
<text x="355.35" y="119.04" fill="#fff" stroke="#fff" stroke-width="0.08">0.7</text>
<text x="376.24" y="119.04" fill="#fff" stroke="#fff" stroke-width="0.08">0.7</text>
<text x="397.14" y="119.04" fill="#fff" stroke="#fff" stroke-width="0.08">0.7</text>
<text x="418.03" y="119.04" fill="#fff" stroke="#fff" stroke-width="0.08">0.6</text>
<text x="438.92" y="119.04" fill="#fff" stroke="#fff" stroke-width="0.08">0.6</text>
<text x="459.82" y="119.04" fill="#fff" stroke="#fff" stroke-width="0.08">0.6</text>
<text x="480.71" y="119.04" fill="#fff" stroke="#fff" stroke-width="0.08">0.5</text>
<text x="501.60" y="119.04" fill="#fff" stroke="#fff" stroke-width="0.08">0.5</text>
<text x="522.50" y="119.04" fill="#fff" stroke="#fff" stroke-width="0.08">0.5</text>
<text x="543.39" y="119.04" fill="#fff" stroke="#fff" stroke-width="0.08">0.5</text>
<text x="564.29" y="119.04" fill="#fff" stroke="#fff" stroke-width="0.08">0.5</text>
<text x="585.18" y="119.04" fill="#fff" stroke="#fff" stroke-width="0.08">0.4</text>
<text x="606.07" y="119.04" fill="#fff" stroke="#fff" stroke-width="0.08">0.4</text>
<text x="626.97" y="119.04" fill="#fff" stroke="#fff" stroke-width="0.08">0.4</text>
<text x="647.86" y="119.04" fill="#fff" stroke="#fff" stroke-width="0.08">0.4</text>
<text x="668.75" y="119.04" fill="#fff" stroke="#fff" stroke-width="0.08">0.4</text>
<text x="41.95" y="136.69" fill="#111" stroke="#111">12.8</text>
<text x="62.84" y="136.69" fill="#111" stroke="#111">6.4</text>
<text x="83.73" y="136.69" fill="#fff" stroke="#fff" stroke-width="0.08">4.3</text>
<text x="104.63" y="136.69" fill="#fff" stroke="#fff" stroke-width="0.08">3.2</text>
<text x="125.52" y="136.69" fill="#fff" stroke="#fff" stroke-width="0.08">2.6</text>
<text x="146.41" y="136.69" fill="#fff" stroke="#fff" stroke-width="0.08">2.1</text>
<text x="167.31" y="136.69" fill="#fff" stroke="#fff" stroke-width="0.08">1.8</text>
<text x="188.20" y="136.69" fill="#fff" stroke="#fff" stroke-width="0.08">1.6</text>
<text x="209.10" y="136.69" fill="#fff" stroke="#fff" stroke-width="0.08">1.4</text>
<text x="229.99" y="136.69" fill="#fff" stroke="#fff" stroke-width="0.08">1.3</text>
<text x="250.88" y="136.69" fill="#fff" stroke="#fff" stroke-width="0.08">1.2</text>
<text x="271.78" y="136.69" fill="#fff" stroke="#fff" stroke-width="0.08">1.1</text>
<text x="292.67" y="136.69" fill="#fff" stroke="#fff" stroke-width="0.08">1.0</text>
<text x="313.56" y="136.69" fill="#fff" stroke="#fff" stroke-width="0.08">0.9</text>
<text x="334.46" y="136.69" fill="#fff" stroke="#fff" stroke-width="0.08">0.9</text>
<text x="355.35" y="136.69" fill="#fff" stroke="#fff" stroke-width="0.08">0.8</text>
<text x="376.24" y="136.69" fill="#fff" stroke="#fff" stroke-width="0.08">0.8</text>
<text x="397.14" y="136.69" fill="#fff" stroke="#fff" stroke-width="0.08">0.7</text>
<text x="418.03" y="136.69" fill="#fff" stroke="#fff" stroke-width="0.08">0.7</text>
<text x="438.92" y="136.69" fill="#fff" stroke="#fff" stroke-width="0.08">0.6</text>
<text x="459.82" y="136.69" fill="#fff" stroke="#fff" stroke-width="0.08">0.6</text>
<text x="480.71" y="136.69" fill="#fff" stroke="#fff" stroke-width="0.08">0.6</text>
<text x="501.60" y="136.69" fill="#fff" stroke="#fff" stroke-width="0.08">0.6</text>
<text x="522.50" y="136.69" fill="#fff" stroke="#fff" stroke-width="0.08">0.5</text>
<text x="543.39" y="136.69" fill="#fff" stroke="#fff" stroke-width="0.08">0.5</text>
<text x="564.29" y="136.69" fill="#fff" stroke="#fff" stroke-width="0.08">0.5</text>
<text x="585.18" y="136.69" fill="#fff" stroke="#fff" stroke-width="0.08">0.5</text>
<text x="606.07" y="136.69" fill="#fff" stroke="#fff" stroke-width="0.08">0.5</text>
<text x="626.97" y="136.69" fill="#fff" stroke="#fff" stroke-width="0.08">0.4</text>
<text x="647.86" y="136.69" fill="#fff" stroke="#fff" stroke-width="0.08">0.4</text>
<text x="668.75" y="136.69" fill="#fff" stroke="#fff" stroke-width="0.08">0.4</text>
<text x="41.95" y="154.33" fill="#111" stroke="#111">13.9</text>
<text x="62.84" y="154.33" fill="#111" stroke="#111">6.9</text>
<text x="83.73" y="154.33" fill="#fff" stroke="#fff" stroke-width="0.08">4.6</text>
<text x="104.63" y="154.33" fill="#fff" stroke="#fff" stroke-width="0.08">3.5</text>
<text x="125.52" y="154.33" fill="#fff" stroke="#fff" stroke-width="0.08">2.8</text>
<text x="146.41" y="154.33" fill="#fff" stroke="#fff" stroke-width="0.08">2.3</text>
<text x="167.31" y="154.33" fill="#fff" stroke="#fff" stroke-width="0.08">2.0</text>
<text x="188.20" y="154.33" fill="#fff" stroke="#fff" stroke-width="0.08">1.7</text>
<text x="209.10" y="154.33" fill="#fff" stroke="#fff" stroke-width="0.08">1.5</text>
<text x="229.99" y="154.33" fill="#fff" stroke="#fff" stroke-width="0.08">1.4</text>
<text x="250.88" y="154.33" fill="#fff" stroke="#fff" stroke-width="0.08">1.3</text>
<text x="271.78" y="154.33" fill="#fff" stroke="#fff" stroke-width="0.08">1.2</text>
<text x="292.67" y="154.33" fill="#fff" stroke="#fff" stroke-width="0.08">1.1</text>
<text x="313.56" y="154.33" fill="#fff" stroke="#fff" stroke-width="0.08">1.0</text>
<text x="334.46" y="154.33" fill="#fff" stroke="#fff" stroke-width="0.08">0.9</text>
<text x="355.35" y="154.33" fill="#fff" stroke="#fff" stroke-width="0.08">0.9</text>
<text x="376.24" y="154.33" fill="#fff" stroke="#fff" stroke-width="0.08">0.8</text>
<text x="397.14" y="154.33" fill="#fff" stroke="#fff" stroke-width="0.08">0.8</text>
<text x="418.03" y="154.33" fill="#fff" stroke="#fff" stroke-width="0.08">0.7</text>
<text x="438.92" y="154.33" fill="#fff" stroke="#fff" stroke-width="0.08">0.7</text>
<text x="459.82" y="154.33" fill="#fff" stroke="#fff" stroke-width="0.08">0.7</text>
<text x="480.71" y="154.33" fill="#fff" stroke="#fff" stroke-width="0.08">0.6</text>
<text x="501.60" y="154.33" fill="#fff" stroke="#fff" stroke-width="0.08">0.6</text>
<text x="522.50" y="154.33" fill="#fff" stroke="#fff" stroke-width="0.08">0.6</text>
<text x="543.39" y="154.33" fill="#fff" stroke="#fff" stroke-width="0.08">0.6</text>
<text x="564.29" y="154.33" fill="#fff" stroke="#fff" stroke-width="0.08">0.5</text>
<text x="585.18" y="154.33" fill="#fff" stroke="#fff" stroke-width="0.08">0.5</text>
<text x="606.07" y="154.33" fill="#fff" stroke="#fff" stroke-width="0.08">0.5</text>
<text x="626.97" y="154.33" fill="#fff" stroke="#fff" stroke-width="0.08">0.5</text>
<text x="647.86" y="154.33" fill="#fff" stroke="#fff" stroke-width="0.08">0.5</text>
<text x="668.75" y="154.33" fill="#fff" stroke="#fff" stroke-width="0.08">0.4</text>
<text x="41.95" y="171.97" fill="#111" stroke="#111">15.2</text>
<text x="62.84" y="171.97" fill="#111" stroke="#111">7.6</text>
<text x="83.73" y="171.97" fill="#fff" stroke="#fff" stroke-width="0.08">5.1</text>
<text x="104.63" y="171.97" fill="#fff" stroke="#fff" stroke-width="0.08">3.8</text>
<text x="125.52" y="171.97" fill="#fff" stroke="#fff" stroke-width="0.08">3.0</text>
<text x="146.41" y="171.97" fill="#fff" stroke="#fff" stroke-width="0.08">2.5</text>
<text x="167.31" y="171.97" fill="#fff" stroke="#fff" stroke-width="0.08">2.2</text>
<text x="188.20" y="171.97" fill="#fff" stroke="#fff" stroke-width="0.08">1.9</text>
<text x="209.10" y="171.97" fill="#fff" stroke="#fff" stroke-width="0.08">1.7</text>
<text x="229.99" y="171.97" fill="#fff" stroke="#fff" stroke-width="0.08">1.5</text>
<text x="250.88" y="171.97" fill="#fff" stroke="#fff" stroke-width="0.08">1.4</text>
<text x="271.78" y="171.97" fill="#fff" stroke="#fff" stroke-width="0.08">1.3</text>
<text x="292.67" y="171.97" fill="#fff" stroke="#fff" stroke-width="0.08">1.2</text>
<text x="313.56" y="171.97" fill="#fff" stroke="#fff" stroke-width="0.08">1.1</text>
<text x="334.46" y="171.97" fill="#fff" stroke="#fff" stroke-width="0.08">1.0</text>
<text x="355.35" y="171.97" fill="#fff" stroke="#fff" stroke-width="0.08">0.9</text>
<text x="376.24" y="171.97" fill="#fff" stroke="#fff" stroke-width="0.08">0.9</text>
<text x="397.14" y="171.97" fill="#fff" stroke="#fff" stroke-width="0.08">0.8</text>
<text x="418.03" y="171.97" fill="#fff" stroke="#fff" stroke-width="0.08">0.8</text>
<text x="438.92" y="171.97" fill="#fff" stroke="#fff" stroke-width="0.08">0.8</text>
<text x="459.82" y="171.97" fill="#fff" stroke="#fff" stroke-width="0.08">0.7</text>
<text x="480.71" y="171.97" fill="#fff" stroke="#fff" stroke-width="0.08">0.7</text>
<text x="501.60" y="171.97" fill="#fff" stroke="#fff" stroke-width="0.08">0.7</text>
<text x="522.50" y="171.97" fill="#fff" stroke="#fff" stroke-width="0.08">0.6</text>
<text x="543.39" y="171.97" fill="#fff" stroke="#fff" stroke-width="0.08">0.6</text>
<text x="564.29" y="171.97" fill="#fff" stroke="#fff" stroke-width="0.08">0.6</text>
<text x="585.18" y="171.97" fill="#fff" stroke="#fff" stroke-width="0.08">0.6</text>
<text x="606.07" y="171.97" fill="#fff" stroke="#fff" stroke-width="0.08">0.5</text>
<text x="626.97" y="171.97" fill="#fff" stroke="#fff" stroke-width="0.08">0.5</text>
<text x="647.86" y="171.97" fill="#fff" stroke="#fff" stroke-width="0.08">0.5</text>
<text x="668.75" y="171.97" fill="#fff" stroke="#fff" stroke-width="0.08">0.5</text>
<text x="41.95" y="189.61" fill="#111" stroke="#111">16.7</text>
<text x="62.84" y="189.61" fill="#111" stroke="#111">8.3</text>
<text x="83.73" y="189.61" fill="#fff" stroke="#fff" stroke-width="0.08">5.6</text>
<text x="104.63" y="189.61" fill="#fff" stroke="#fff" stroke-width="0.08">4.2</text>
<text x="125.52" y="189.61" fill="#fff" stroke="#fff" stroke-width="0.08">3.3</text>
<text x="146.41" y="189.61" fill="#fff" stroke="#fff" stroke-width="0.08">2.8</text>
<text x="167.31" y="189.61" fill="#fff" stroke="#fff" stroke-width="0.08">2.4</text>
<text x="188.20" y="189.61" fill="#fff" stroke="#fff" stroke-width="0.08">2.1</text>
<text x="209.10" y="189.61" fill="#fff" stroke="#fff" stroke-width="0.08">1.9</text>
<text x="229.99" y="189.61" fill="#fff" stroke="#fff" stroke-width="0.08">1.7</text>
<text x="250.88" y="189.61" fill="#fff" stroke="#fff" stroke-width="0.08">1.5</text>
<text x="271.78" y="189.61" fill="#fff" stroke="#fff" stroke-width="0.08">1.4</text>
<text x="292.67" y="189.61" fill="#fff" stroke="#fff" stroke-width="0.08">1.3</text>
<text x="313.56" y="189.61" fill="#fff" stroke="#fff" stroke-width="0.08">1.2</text>
<text x="334.46" y="189.61" fill="#fff" stroke="#fff" stroke-width="0.08">1.1</text>
<text x="355.35" y="189.61" fill="#fff" stroke="#fff" stroke-width="0.08">1.0</text>
<text x="376.24" y="189.61" fill="#fff" stroke="#fff" stroke-width="0.08">1.0</text>
<text x="397.14" y="189.61" fill="#fff" stroke="#fff" stroke-width="0.08">0.9</text>
<text x="418.03" y="189.61" fill="#fff" stroke="#fff" stroke-width="0.08">0.9</text>
<text x="438.92" y="189.61" fill="#fff" stroke="#fff" stroke-width="0.08">0.8</text>
<text x="459.82" y="189.61" fill="#fff" stroke="#fff" stroke-width="0.08">0.8</text>
<text x="480.71" y="189.61" fill="#fff" stroke="#fff" stroke-width="0.08">0.8</text>
<text x="501.60" y="189.61" fill="#fff" stroke="#fff" stroke-width="0.08">0.7</text>
<text x="522.50" y="189.61" fill="#fff" stroke="#fff" stroke-width="0.08">0.7</text>
<text x="543.39" y="189.61" fill="#fff" stroke="#fff" stroke-width="0.08">0.7</text>
<text x="564.29" y="189.61" fill="#fff" stroke="#fff" stroke-width="0.08">0.6</text>
<text x="585.18" y="189.61" fill="#fff" stroke="#fff" stroke-width="0.08">0.6</text>
<text x="606.07" y="189.61" fill="#fff" stroke="#fff" stroke-width="0.08">0.6</text>
<text x="626.97" y="189.61" fill="#fff" stroke="#fff" stroke-width="0.08">0.6</text>
<text x="647.86" y="189.61" fill="#fff" stroke="#fff" stroke-width="0.08">0.6</text>
<text x="668.75" y="189.61" fill="#fff" stroke="#fff" stroke-width="0.08">0.5</text>
<text x="41.95" y="207.25" fill="#111" stroke="#111">18.5</text>
<text x="62.84" y="207.25" fill="#111" stroke="#111">9.3</text>
<text x="83.73" y="207.25" fill="#fff" stroke="#fff" stroke-width="0.08">6.2</text>
<text x="104.63" y="207.25" fill="#fff" stroke="#fff" stroke-width="0.08">4.6</text>
<text x="125.52" y="207.25" fill="#fff" stroke="#fff" stroke-width="0.08">3.7</text>
<text x="146.41" y="207.25" fill="#fff" stroke="#fff" stroke-width="0.08">3.1</text>
<text x="167.31" y="207.25" fill="#fff" stroke="#fff" stroke-width="0.08">2.6</text>
<text x="188.20" y="207.25" fill="#fff" stroke="#fff" stroke-width="0.08">2.3</text>
<text x="209.10" y="207.25" fill="#fff" stroke="#fff" stroke-width="0.08">2.1</text>
<text x="229.99" y="207.25" fill="#fff" stroke="#fff" stroke-width="0.08">1.9</text>
<text x="250.88" y="207.25" fill="#fff" stroke="#fff" stroke-width="0.08">1.7</text>
<text x="271.78" y="207.25" fill="#fff" stroke="#fff" stroke-width="0.08">1.5</text>
<text x="292.67" y="207.25" fill="#fff" stroke="#fff" stroke-width="0.08">1.4</text>
<text x="313.56" y="207.25" fill="#fff" stroke="#fff" stroke-width="0.08">1.3</text>
<text x="334.46" y="207.25" fill="#fff" stroke="#fff" stroke-width="0.08">1.2</text>
<text x="355.35" y="207.25" fill="#fff" stroke="#fff" stroke-width="0.08">1.2</text>
<text x="376.24" y="207.25" fill="#fff" stroke="#fff" stroke-width="0.08">1.1</text>
<text x="397.14" y="207.25" fill="#fff" stroke="#fff" stroke-width="0.08">1.0</text>
<text x="418.03" y="207.25" fill="#fff" stroke="#fff" stroke-width="0.08">1.0</text>
<text x="438.92" y="207.25" fill="#fff" stroke="#fff" stroke-width="0.08">0.9</text>
<text x="459.82" y="207.25" fill="#fff" stroke="#fff" stroke-width="0.08">0.9</text>
<text x="480.71" y="207.25" fill="#fff" stroke="#fff" stroke-width="0.08">0.8</text>
<text x="501.60" y="207.25" fill="#fff" stroke="#fff" stroke-width="0.08">0.8</text>
<text x="522.50" y="207.25" fill="#fff" stroke="#fff" stroke-width="0.08">0.8</text>
<text x="543.39" y="207.25" fill="#fff" stroke="#fff" stroke-width="0.08">0.7</text>
<text x="564.29" y="207.25" fill="#fff" stroke="#fff" stroke-width="0.08">0.7</text>
<text x="585.18" y="207.25" fill="#fff" stroke="#fff" stroke-width="0.08">0.7</text>
<text x="606.07" y="207.25" fill="#fff" stroke="#fff" stroke-width="0.08">0.7</text>
<text x="626.97" y="207.25" fill="#fff" stroke="#fff" stroke-width="0.08">0.6</text>
<text x="647.86" y="207.25" fill="#fff" stroke="#fff" stroke-width="0.08">0.6</text>
<text x="668.75" y="207.25" fill="#fff" stroke="#fff" stroke-width="0.08">0.6</text>
<text x="41.95" y="224.89" fill="#111" stroke="#111">20.8</text>
<text x="62.84" y="224.89" fill="#111" stroke="#111">10.4</text>
<text x="83.73" y="224.89" fill="#111" stroke="#111">6.9</text>
<text x="104.63" y="224.89" fill="#fff" stroke="#fff" stroke-width="0.08">5.2</text>
<text x="125.52" y="224.89" fill="#fff" stroke="#fff" stroke-width="0.08">4.2</text>
<text x="146.41" y="224.89" fill="#fff" stroke="#fff" stroke-width="0.08">3.5</text>
<text x="167.31" y="224.89" fill="#fff" stroke="#fff" stroke-width="0.08">3.0</text>
<text x="188.20" y="224.89" fill="#fff" stroke="#fff" stroke-width="0.08">2.6</text>
<text x="209.10" y="224.89" fill="#fff" stroke="#fff" stroke-width="0.08">2.3</text>
<text x="229.99" y="224.89" fill="#fff" stroke="#fff" stroke-width="0.08">2.1</text>
<text x="250.88" y="224.89" fill="#fff" stroke="#fff" stroke-width="0.08">1.9</text>
<text x="271.78" y="224.89" fill="#fff" stroke="#fff" stroke-width="0.08">1.7</text>
<text x="292.67" y="224.89" fill="#fff" stroke="#fff" stroke-width="0.08">1.6</text>
<text x="313.56" y="224.89" fill="#fff" stroke="#fff" stroke-width="0.08">1.5</text>
<text x="334.46" y="224.89" fill="#fff" stroke="#fff" stroke-width="0.08">1.4</text>
<text x="355.35" y="224.89" fill="#fff" stroke="#fff" stroke-width="0.08">1.3</text>
<text x="376.24" y="224.89" fill="#fff" stroke="#fff" stroke-width="0.08">1.2</text>
<text x="397.14" y="224.89" fill="#fff" stroke="#fff" stroke-width="0.08">1.2</text>
<text x="418.03" y="224.89" fill="#fff" stroke="#fff" stroke-width="0.08">1.1</text>
<text x="438.92" y="224.89" fill="#fff" stroke="#fff" stroke-width="0.08">1.0</text>
<text x="459.82" y="224.89" fill="#fff" stroke="#fff" stroke-width="0.08">1.0</text>
<text x="480.71" y="224.89" fill="#fff" stroke="#fff" stroke-width="0.08">0.9</text>
<text x="501.60" y="224.89" fill="#fff" stroke="#fff" stroke-width="0.08">0.9</text>
<text x="522.50" y="224.89" fill="#fff" stroke="#fff" stroke-width="0.08">0.9</text>
<text x="543.39" y="224.89" fill="#fff" stroke="#fff" stroke-width="0.08">0.8</text>
<text x="564.29" y="224.89" fill="#fff" stroke="#fff" stroke-width="0.08">0.8</text>
<text x="585.18" y="224.89" fill="#fff" stroke="#fff" stroke-width="0.08">0.8</text>
<text x="606.07" y="224.89" fill="#fff" stroke="#fff" stroke-width="0.08">0.7</text>
<text x="626.97" y="224.89" fill="#fff" stroke="#fff" stroke-width="0.08">0.7</text>
<text x="647.86" y="224.89" fill="#fff" stroke="#fff" stroke-width="0.08">0.7</text>
<text x="668.75" y="224.89" fill="#fff" stroke="#fff" stroke-width="0.08">0.7</text>
<text x="41.95" y="242.53" fill="#fff" stroke="#fff" stroke-width="0.08">23.8</text>
<text x="62.84" y="242.53" fill="#111" stroke="#111">11.9</text>
<text x="83.73" y="242.53" fill="#111" stroke="#111">7.9</text>
<text x="104.63" y="242.53" fill="#fff" stroke="#fff" stroke-width="0.08">6.0</text>
<text x="125.52" y="242.53" fill="#fff" stroke="#fff" stroke-width="0.08">4.8</text>
<text x="146.41" y="242.53" fill="#fff" stroke="#fff" stroke-width="0.08">4.0</text>
<text x="167.31" y="242.53" fill="#fff" stroke="#fff" stroke-width="0.08">3.4</text>
<text x="188.20" y="242.53" fill="#fff" stroke="#fff" stroke-width="0.08">3.0</text>
<text x="209.10" y="242.53" fill="#fff" stroke="#fff" stroke-width="0.08">2.6</text>
<text x="229.99" y="242.53" fill="#fff" stroke="#fff" stroke-width="0.08">2.4</text>
<text x="250.88" y="242.53" fill="#fff" stroke="#fff" stroke-width="0.08">2.2</text>
<text x="271.78" y="242.53" fill="#fff" stroke="#fff" stroke-width="0.08">2.0</text>
<text x="292.67" y="242.53" fill="#fff" stroke="#fff" stroke-width="0.08">1.8</text>
<text x="313.56" y="242.53" fill="#fff" stroke="#fff" stroke-width="0.08">1.7</text>
<text x="334.46" y="242.53" fill="#fff" stroke="#fff" stroke-width="0.08">1.6</text>
<text x="355.35" y="242.53" fill="#fff" stroke="#fff" stroke-width="0.08">1.5</text>
<text x="376.24" y="242.53" fill="#fff" stroke="#fff" stroke-width="0.08">1.4</text>
<text x="397.14" y="242.53" fill="#fff" stroke="#fff" stroke-width="0.08">1.3</text>
<text x="418.03" y="242.53" fill="#fff" stroke="#fff" stroke-width="0.08">1.3</text>
<text x="438.92" y="242.53" fill="#fff" stroke="#fff" stroke-width="0.08">1.2</text>
<text x="459.82" y="242.53" fill="#fff" stroke="#fff" stroke-width="0.08">1.1</text>
<text x="480.71" y="242.53" fill="#fff" stroke="#fff" stroke-width="0.08">1.1</text>
<text x="501.60" y="242.53" fill="#fff" stroke="#fff" stroke-width="0.08">1.0</text>
<text x="522.50" y="242.53" fill="#fff" stroke="#fff" stroke-width="0.08">1.0</text>
<text x="543.39" y="242.53" fill="#fff" stroke="#fff" stroke-width="0.08">1.0</text>
<text x="564.29" y="242.53" fill="#fff" stroke="#fff" stroke-width="0.08">0.9</text>
<text x="585.18" y="242.53" fill="#fff" stroke="#fff" stroke-width="0.08">0.9</text>
<text x="606.07" y="242.53" fill="#fff" stroke="#fff" stroke-width="0.08">0.9</text>
<text x="626.97" y="242.53" fill="#fff" stroke="#fff" stroke-width="0.08">0.8</text>
<text x="647.86" y="242.53" fill="#fff" stroke="#fff" stroke-width="0.08">0.8</text>
<text x="668.75" y="242.53" fill="#fff" stroke="#fff" stroke-width="0.08">0.8</text>
<text x="41.95" y="260.17" fill="#fff" stroke="#fff" stroke-width="0.08">27.8</text>
<text x="62.84" y="260.17" fill="#111" stroke="#111">13.9</text>
<text x="83.73" y="260.17" fill="#111" stroke="#111">9.3</text>
<text x="104.63" y="260.17" fill="#111" stroke="#111">6.9</text>
<text x="125.52" y="260.17" fill="#fff" stroke="#fff" stroke-width="0.08">5.6</text>
<text x="146.41" y="260.17" fill="#fff" stroke="#fff" stroke-width="0.08">4.6</text>
<text x="167.31" y="260.17" fill="#fff" stroke="#fff" stroke-width="0.08">4.0</text>
<text x="188.20" y="260.17" fill="#fff" stroke="#fff" stroke-width="0.08">3.5</text>
<text x="209.10" y="260.17" fill="#fff" stroke="#fff" stroke-width="0.08">3.1</text>
<text x="229.99" y="260.17" fill="#fff" stroke="#fff" stroke-width="0.08">2.8</text>
<text x="250.88" y="260.17" fill="#fff" stroke="#fff" stroke-width="0.08">2.5</text>
<text x="271.78" y="260.17" fill="#fff" stroke="#fff" stroke-width="0.08">2.3</text>
<text x="292.67" y="260.17" fill="#fff" stroke="#fff" stroke-width="0.08">2.1</text>
<text x="313.56" y="260.17" fill="#fff" stroke="#fff" stroke-width="0.08">2.0</text>
<text x="334.46" y="260.17" fill="#fff" stroke="#fff" stroke-width="0.08">1.9</text>
<text x="355.35" y="260.17" fill="#fff" stroke="#fff" stroke-width="0.08">1.7</text>
<text x="376.24" y="260.17" fill="#fff" stroke="#fff" stroke-width="0.08">1.6</text>
<text x="397.14" y="260.17" fill="#fff" stroke="#fff" stroke-width="0.08">1.5</text>
<text x="418.03" y="260.17" fill="#fff" stroke="#fff" stroke-width="0.08">1.5</text>
<text x="438.92" y="260.17" fill="#fff" stroke="#fff" stroke-width="0.08">1.4</text>
<text x="459.82" y="260.17" fill="#fff" stroke="#fff" stroke-width="0.08">1.3</text>
<text x="480.71" y="260.17" fill="#fff" stroke="#fff" stroke-width="0.08">1.3</text>
<text x="501.60" y="260.17" fill="#fff" stroke="#fff" stroke-width="0.08">1.2</text>
<text x="522.50" y="260.17" fill="#fff" stroke="#fff" stroke-width="0.08">1.2</text>
<text x="543.39" y="260.17" fill="#fff" stroke="#fff" stroke-width="0.08">1.1</text>
<text x="564.29" y="260.17" fill="#fff" stroke="#fff" stroke-width="0.08">1.1</text>
<text x="585.18" y="260.17" fill="#fff" stroke="#fff" stroke-width="0.08">1.0</text>
<text x="606.07" y="260.17" fill="#fff" stroke="#fff" stroke-width="0.08">1.0</text>
<text x="626.97" y="260.17" fill="#fff" stroke="#fff" stroke-width="0.08">1.0</text>
<text x="647.86" y="260.17" fill="#fff" stroke="#fff" stroke-width="0.08">0.9</text>
<text x="668.75" y="260.17" fill="#fff" stroke="#fff" stroke-width="0.08">0.9</text>
<text x="41.95" y="277.81" fill="#fff" stroke="#fff" stroke-width="0.08">33.3</text>
<text x="62.84" y="277.81" fill="#111" stroke="#111">16.7</text>
<text x="83.73" y="277.81" fill="#111" stroke="#111">11.1</text>
<text x="104.63" y="277.81" fill="#111" stroke="#111">8.3</text>
<text x="125.52" y="277.81" fill="#111" stroke="#111">6.7</text>
<text x="146.41" y="277.81" fill="#fff" stroke="#fff" stroke-width="0.08">5.6</text>
<text x="167.31" y="277.81" fill="#fff" stroke="#fff" stroke-width="0.08">4.8</text>
<text x="188.20" y="277.81" fill="#fff" stroke="#fff" stroke-width="0.08">4.2</text>
<text x="209.10" y="277.81" fill="#fff" stroke="#fff" stroke-width="0.08">3.7</text>
<text x="229.99" y="277.81" fill="#fff" stroke="#fff" stroke-width="0.08">3.3</text>
<text x="250.88" y="277.81" fill="#fff" stroke="#fff" stroke-width="0.08">3.0</text>
<text x="271.78" y="277.81" fill="#fff" stroke="#fff" stroke-width="0.08">2.8</text>
<text x="292.67" y="277.81" fill="#fff" stroke="#fff" stroke-width="0.08">2.6</text>
<text x="313.56" y="277.81" fill="#fff" stroke="#fff" stroke-width="0.08">2.4</text>
<text x="334.46" y="277.81" fill="#fff" stroke="#fff" stroke-width="0.08">2.2</text>
<text x="355.35" y="277.81" fill="#fff" stroke="#fff" stroke-width="0.08">2.1</text>
<text x="376.24" y="277.81" fill="#fff" stroke="#fff" stroke-width="0.08">2.0</text>
<text x="397.14" y="277.81" fill="#fff" stroke="#fff" stroke-width="0.08">1.9</text>
<text x="418.03" y="277.81" fill="#fff" stroke="#fff" stroke-width="0.08">1.8</text>
<text x="438.92" y="277.81" fill="#fff" stroke="#fff" stroke-width="0.08">1.7</text>
<text x="459.82" y="277.81" fill="#fff" stroke="#fff" stroke-width="0.08">1.6</text>
<text x="480.71" y="277.81" fill="#fff" stroke="#fff" stroke-width="0.08">1.5</text>
<text x="501.60" y="277.81" fill="#fff" stroke="#fff" stroke-width="0.08">1.4</text>
<text x="522.50" y="277.81" fill="#fff" stroke="#fff" stroke-width="0.08">1.4</text>
<text x="543.39" y="277.81" fill="#fff" stroke="#fff" stroke-width="0.08">1.3</text>
<text x="564.29" y="277.81" fill="#fff" stroke="#fff" stroke-width="0.08">1.3</text>
<text x="585.18" y="277.81" fill="#fff" stroke="#fff" stroke-width="0.08">1.2</text>
<text x="606.07" y="277.81" fill="#fff" stroke="#fff" stroke-width="0.08">1.2</text>
<text x="626.97" y="277.81" fill="#fff" stroke="#fff" stroke-width="0.08">1.1</text>
<text x="647.86" y="277.81" fill="#fff" stroke="#fff" stroke-width="0.08">1.1</text>
<text x="668.75" y="277.81" fill="#fff" stroke="#fff" stroke-width="0.08">1.1</text>
<text x="41.95" y="295.46" fill="#fff" stroke="#fff" stroke-width="0.08">41.7</text>
<text x="62.84" y="295.46" fill="#111" stroke="#111">20.8</text>
<text x="83.73" y="295.46" fill="#111" stroke="#111">13.9</text>
<text x="104.63" y="295.46" fill="#111" stroke="#111">10.4</text>
<text x="125.52" y="295.46" fill="#111" stroke="#111">8.3</text>
<text x="146.41" y="295.46" fill="#111" stroke="#111">6.9</text>
<text x="167.31" y="295.46" fill="#fff" stroke="#fff" stroke-width="0.08">6.0</text>
<text x="188.20" y="295.46" fill="#fff" stroke="#fff" stroke-width="0.08">5.2</text>
<text x="209.10" y="295.46" fill="#fff" stroke="#fff" stroke-width="0.08">4.6</text>
<text x="229.99" y="295.46" fill="#fff" stroke="#fff" stroke-width="0.08">4.2</text>
<text x="250.88" y="295.46" fill="#fff" stroke="#fff" stroke-width="0.08">3.8</text>
<text x="271.78" y="295.46" fill="#fff" stroke="#fff" stroke-width="0.08">3.5</text>
<text x="292.67" y="295.46" fill="#fff" stroke="#fff" stroke-width="0.08">3.2</text>
<text x="313.56" y="295.46" fill="#fff" stroke="#fff" stroke-width="0.08">3.0</text>
<text x="334.46" y="295.46" fill="#fff" stroke="#fff" stroke-width="0.08">2.8</text>
<text x="355.35" y="295.46" fill="#fff" stroke="#fff" stroke-width="0.08">2.6</text>
<text x="376.24" y="295.46" fill="#fff" stroke="#fff" stroke-width="0.08">2.5</text>
<text x="397.14" y="295.46" fill="#fff" stroke="#fff" stroke-width="0.08">2.3</text>
<text x="418.03" y="295.46" fill="#fff" stroke="#fff" stroke-width="0.08">2.2</text>
<text x="438.92" y="295.46" fill="#fff" stroke="#fff" stroke-width="0.08">2.1</text>
<text x="459.82" y="295.46" fill="#fff" stroke="#fff" stroke-width="0.08">2.0</text>
<text x="480.71" y="295.46" fill="#fff" stroke="#fff" stroke-width="0.08">1.9</text>
<text x="501.60" y="295.46" fill="#fff" stroke="#fff" stroke-width="0.08">1.8</text>
<text x="522.50" y="295.46" fill="#fff" stroke="#fff" stroke-width="0.08">1.7</text>
<text x="543.39" y="295.46" fill="#fff" stroke="#fff" stroke-width="0.08">1.7</text>
<text x="564.29" y="295.46" fill="#fff" stroke="#fff" stroke-width="0.08">1.6</text>
<text x="585.18" y="295.46" fill="#fff" stroke="#fff" stroke-width="0.08">1.5</text>
<text x="606.07" y="295.46" fill="#fff" stroke="#fff" stroke-width="0.08">1.5</text>
<text x="626.97" y="295.46" fill="#fff" stroke="#fff" stroke-width="0.08">1.4</text>
<text x="647.86" y="295.46" fill="#fff" stroke="#fff" stroke-width="0.08">1.4</text>
<text x="668.75" y="295.46" fill="#fff" stroke="#fff" stroke-width="0.08">1.3</text>
<text x="41.95" y="313.10" fill="#fff" stroke="#fff" stroke-width="0.08">55.6</text>
<text x="62.84" y="313.10" fill="#fff" stroke="#fff" stroke-width="0.08">27.8</text>
<text x="83.73" y="313.10" fill="#111" stroke="#111">18.5</text>
<text x="104.63" y="313.10" fill="#111" stroke="#111">13.9</text>
<text x="125.52" y="313.10" fill="#111" stroke="#111">11.1</text>
<text x="146.41" y="313.10" fill="#111" stroke="#111">9.3</text>
<text x="167.31" y="313.10" fill="#111" stroke="#111">7.9</text>
<text x="188.20" y="313.10" fill="#111" stroke="#111">6.9</text>
<text x="209.10" y="313.10" fill="#fff" stroke="#fff" stroke-width="0.08">6.2</text>
<text x="229.99" y="313.10" fill="#fff" stroke="#fff" stroke-width="0.08">5.6</text>
<text x="250.88" y="313.10" fill="#fff" stroke="#fff" stroke-width="0.08">5.1</text>
<text x="271.78" y="313.10" fill="#fff" stroke="#fff" stroke-width="0.08">4.6</text>
<text x="292.67" y="313.10" fill="#fff" stroke="#fff" stroke-width="0.08">4.3</text>
<text x="313.56" y="313.10" fill="#fff" stroke="#fff" stroke-width="0.08">4.0</text>
<text x="334.46" y="313.10" fill="#fff" stroke="#fff" stroke-width="0.08">3.7</text>
<text x="355.35" y="313.10" fill="#fff" stroke="#fff" stroke-width="0.08">3.5</text>
<text x="376.24" y="313.10" fill="#fff" stroke="#fff" stroke-width="0.08">3.3</text>
<text x="397.14" y="313.10" fill="#fff" stroke="#fff" stroke-width="0.08">3.1</text>
<text x="418.03" y="313.10" fill="#fff" stroke="#fff" stroke-width="0.08">2.9</text>
<text x="438.92" y="313.10" fill="#fff" stroke="#fff" stroke-width="0.08">2.8</text>
<text x="459.82" y="313.10" fill="#fff" stroke="#fff" stroke-width="0.08">2.6</text>
<text x="480.71" y="313.10" fill="#fff" stroke="#fff" stroke-width="0.08">2.5</text>
<text x="501.60" y="313.10" fill="#fff" stroke="#fff" stroke-width="0.08">2.4</text>
<text x="522.50" y="313.10" fill="#fff" stroke="#fff" stroke-width="0.08">2.3</text>
<text x="543.39" y="313.10" fill="#fff" stroke="#fff" stroke-width="0.08">2.2</text>
<text x="564.29" y="313.10" fill="#fff" stroke="#fff" stroke-width="0.08">2.1</text>
<text x="585.18" y="313.10" fill="#fff" stroke="#fff" stroke-width="0.08">2.1</text>
<text x="606.07" y="313.10" fill="#fff" stroke="#fff" stroke-width="0.08">2.0</text>
<text x="626.97" y="313.10" fill="#fff" stroke="#fff" stroke-width="0.08">1.9</text>
<text x="647.86" y="313.10" fill="#fff" stroke="#fff" stroke-width="0.08">1.9</text>
<text x="668.75" y="313.10" fill="#fff" stroke="#fff" stroke-width="0.08">1.8</text>
<text x="41.95" y="330.74" fill="#fff" stroke="#fff" stroke-width="0.08">83.3</text>
<text x="62.84" y="330.74" fill="#fff" stroke="#fff" stroke-width="0.08">41.7</text>
<text x="83.73" y="330.74" fill="#fff" stroke="#fff" stroke-width="0.08">27.8</text>
<text x="104.63" y="330.74" fill="#111" stroke="#111">20.8</text>
<text x="125.52" y="330.74" fill="#111" stroke="#111">16.7</text>
<text x="146.41" y="330.74" fill="#111" stroke="#111">13.9</text>
<text x="167.31" y="330.74" fill="#111" stroke="#111">11.9</text>
<text x="188.20" y="330.74" fill="#111" stroke="#111">10.4</text>
<text x="209.10" y="330.74" fill="#111" stroke="#111">9.3</text>
<text x="229.99" y="330.74" fill="#111" stroke="#111">8.3</text>
<text x="250.88" y="330.74" fill="#111" stroke="#111">7.6</text>
<text x="271.78" y="330.74" fill="#111" stroke="#111">6.9</text>
<text x="292.67" y="330.74" fill="#111" stroke="#111">6.4</text>
<text x="313.56" y="330.74" fill="#fff" stroke="#fff" stroke-width="0.08">6.0</text>
<text x="334.46" y="330.74" fill="#fff" stroke="#fff" stroke-width="0.08">5.6</text>
<text x="355.35" y="330.74" fill="#fff" stroke="#fff" stroke-width="0.08">5.2</text>
<text x="376.24" y="330.74" fill="#fff" stroke="#fff" stroke-width="0.08">4.9</text>
<text x="397.14" y="330.74" fill="#fff" stroke="#fff" stroke-width="0.08">4.6</text>
<text x="418.03" y="330.74" fill="#fff" stroke="#fff" stroke-width="0.08">4.4</text>
<text x="438.92" y="330.74" fill="#fff" stroke="#fff" stroke-width="0.08">4.2</text>
<text x="459.82" y="330.74" fill="#fff" stroke="#fff" stroke-width="0.08">4.0</text>
<text x="480.71" y="330.74" fill="#fff" stroke="#fff" stroke-width="0.08">3.8</text>
<text x="501.60" y="330.74" fill="#fff" stroke="#fff" stroke-width="0.08">3.6</text>
<text x="522.50" y="330.74" fill="#fff" stroke="#fff" stroke-width="0.08">3.5</text>
<text x="543.39" y="330.74" fill="#fff" stroke="#fff" stroke-width="0.08">3.3</text>
<text x="564.29" y="330.74" fill="#fff" stroke="#fff" stroke-width="0.08">3.2</text>
<text x="585.18" y="330.74" fill="#fff" stroke="#fff" stroke-width="0.08">3.1</text>
<text x="606.07" y="330.74" fill="#fff" stroke="#fff" stroke-width="0.08">3.0</text>
<text x="626.97" y="330.74" fill="#fff" stroke="#fff" stroke-width="0.08">2.9</text>
<text x="647.86" y="330.74" fill="#fff" stroke="#fff" stroke-width="0.08">2.8</text>
<text x="668.75" y="330.74" fill="#fff" stroke="#fff" stroke-width="0.08">2.7</text>
<text x="41.95" y="348.38" fill="#fff" stroke="#fff" stroke-width="0.08">166.7</text>
<text x="62.84" y="348.38" fill="#fff" stroke="#fff" stroke-width="0.08">83.3</text>
<text x="83.73" y="348.38" fill="#fff" stroke="#fff" stroke-width="0.08">55.6</text>
<text x="104.63" y="348.38" fill="#fff" stroke="#fff" stroke-width="0.08">41.7</text>
<text x="125.52" y="348.38" fill="#fff" stroke="#fff" stroke-width="0.08">33.3</text>
<text x="146.41" y="348.38" fill="#fff" stroke="#fff" stroke-width="0.08">27.8</text>
<text x="167.31" y="348.38" fill="#fff" stroke="#fff" stroke-width="0.08">23.8</text>
<text x="188.20" y="348.38" fill="#111" stroke="#111">20.8</text>
<text x="209.10" y="348.38" fill="#111" stroke="#111">18.5</text>
<text x="229.99" y="348.38" fill="#111" stroke="#111">16.7</text>
<text x="250.88" y="348.38" fill="#111" stroke="#111">15.2</text>
<text x="271.78" y="348.38" fill="#111" stroke="#111">13.9</text>
<text x="292.67" y="348.38" fill="#111" stroke="#111">12.8</text>
<text x="313.56" y="348.38" fill="#111" stroke="#111">11.9</text>
<text x="334.46" y="348.38" fill="#111" stroke="#111">11.1</text>
<text x="355.35" y="348.38" fill="#111" stroke="#111">10.4</text>
<text x="376.24" y="348.38" fill="#111" stroke="#111">9.8</text>
<text x="397.14" y="348.38" fill="#111" stroke="#111">9.3</text>
<text x="418.03" y="348.38" fill="#111" stroke="#111">8.8</text>
<text x="438.92" y="348.38" fill="#111" stroke="#111">8.3</text>
<text x="459.82" y="348.38" fill="#111" stroke="#111">7.9</text>
<text x="480.71" y="348.38" fill="#111" stroke="#111">7.6</text>
<text x="501.60" y="348.38" fill="#111" stroke="#111">7.2</text>
<text x="522.50" y="348.38" fill="#111" stroke="#111">6.9</text>
<text x="543.39" y="348.38" fill="#111" stroke="#111">6.7</text>
<text x="564.29" y="348.38" fill="#111" stroke="#111">6.4</text>
<text x="585.18" y="348.38" fill="#fff" stroke="#fff" stroke-width="0.08">6.2</text>
<text x="606.07" y="348.38" fill="#fff" stroke="#fff" stroke-width="0.08">6.0</text>
<text x="626.97" y="348.38" fill="#fff" stroke="#fff" stroke-width="0.08">5.7</text>
<text x="647.86" y="348.38" fill="#fff" stroke="#fff" stroke-width="0.08">5.6</text>
<text x="668.75" y="348.38" fill="#fff" stroke="#fff" stroke-width="0.08">5.4</text>
</g>
<rect x="490.3" y="90.4" width="146.4" height="47.9" rx="1.5" fill="#008a43" fill-opacity="0.96" stroke="#ccc" stroke-opacity="0.6" stroke-width="0.8"/>
<path d="M493.9 98.6H514.9" stroke="#fff" stroke-width="1.3"/>
<path d="M493.9 113.4H514.9" stroke="#000" stroke-width="1.3"/>
<circle cx="504.3" cy="129.6" r="3.0" fill="#ffc814"/>
<g font-size="10.25" fill="#000"><text x="523.1" y="102.6">6.25 GBPS</text><text x="523.1" y="117.6">3.08 GBPS</text><text x="523.1" y="132.8">DE-16 Configurations</text></g>
<rect x="31.5" y="407.3" width="647.70" height="16.10" fill="url(#cw)" stroke="#222" stroke-opacity="0.75" stroke-width="0.6"/>
<g font-size="10.4" text-anchor="middle" fill="#000">
<text x="31.50" y="433.8">0</text>
<text x="53.09" y="433.8">1</text>
<text x="74.68" y="433.8">2</text>
<text x="96.27" y="433.8">3</text>
<text x="117.86" y="433.8">4</text>
<text x="139.45" y="433.8">5</text>
<text x="161.04" y="433.8">6</text>
<text x="182.63" y="433.8">7</text>
<text x="204.22" y="433.8">8</text>
<text x="225.81" y="433.8">9</text>
<text x="247.40" y="433.8">10</text>
<text x="268.99" y="433.8">11</text>
<text x="290.58" y="433.8">12</text>
<text x="312.17" y="433.8">13</text>
<text x="333.76" y="433.8">14</text>
<text x="355.35" y="433.8">15</text>
<text x="376.94" y="433.8">16</text>
<text x="398.53" y="433.8">17</text>
<text x="420.12" y="433.8">18</text>
<text x="441.71" y="433.8">19</text>
<text x="463.30" y="433.8">20</text>
<text x="484.89" y="433.8">21</text>
<text x="506.48" y="433.8">22</text>
<text x="528.07" y="433.8">23</text>
<text x="549.66" y="433.8">24</text>
<text x="571.25" y="433.8">25</text>
<text x="592.84" y="433.8">26</text>
<text x="614.43" y="433.8">27</text>
<text x="636.02" y="433.8">28</text>
<text x="657.61" y="433.8">29</text>
<text x="679.20" y="433.8">30</text>
</g>
<path d="M31.50 423.4v1.2M53.09 423.4v1.2M74.68 423.4v1.2M96.27 423.4v1.2M117.86 423.4v1.2M139.45 423.4v1.2M161.04 423.4v1.2M182.63 423.4v1.2M204.22 423.4v1.2M225.81 423.4v1.2M247.40 423.4v1.2M268.99 423.4v1.2M290.58 423.4v1.2M312.17 423.4v1.2M333.76 423.4v1.2M355.35 423.4v1.2M376.94 423.4v1.2M398.53 423.4v1.2M420.12 423.4v1.2M441.71 423.4v1.2M463.30 423.4v1.2M484.89 423.4v1.2M506.48 423.4v1.2M528.07 423.4v1.2M549.66 423.4v1.2M571.25 423.4v1.2M592.84 423.4v1.2M614.43 423.4v1.2M636.02 423.4v1.2M657.61 423.4v1.2M679.20 423.4v1.2" stroke="#000" stroke-width="0.7" opacity="0.7"/>
</svg>
</body></html>
